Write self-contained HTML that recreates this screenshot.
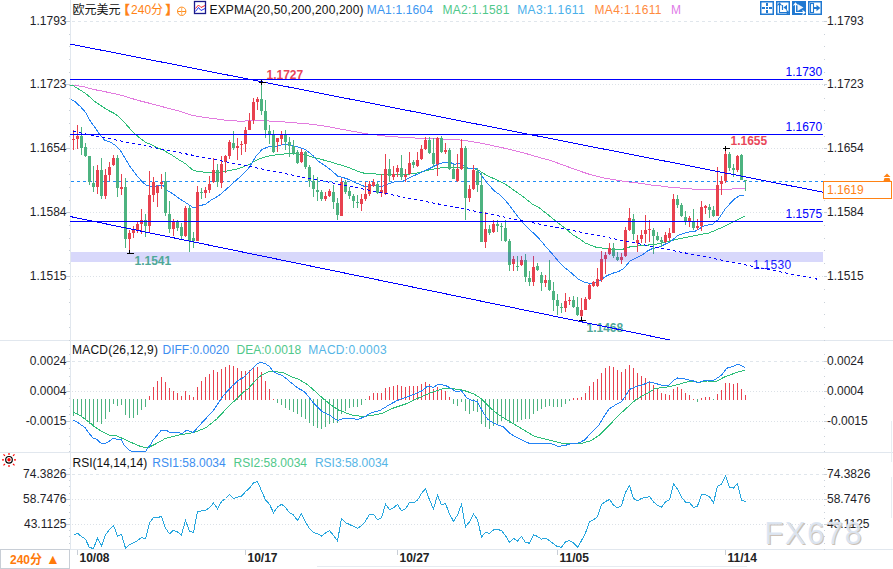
<!DOCTYPE html>
<html><head><meta charset="utf-8"><title>EURUSD 240</title>
<style>
html,body{margin:0;padding:0;background:#fff;}
body{width:893px;height:569px;overflow:hidden;}
svg{display:block;}
</style></head><body>
<svg width="893" height="569" viewBox="0 0 893 569" font-family="'Liberation Sans','Noto Sans CJK SC',sans-serif">
<defs><clipPath id="cm"><rect x="70" y="22" width="753" height="318"/></clipPath><clipPath id="cmacd"><rect x="71" y="341" width="752" height="111"/></clipPath><clipPath id="crsi"><rect x="71" y="453" width="752" height="96"/></clipPath></defs>
<rect x="0" y="0" width="893" height="569" fill="#fff"/>
<rect x="70" y="0" width="1" height="549" fill="#E1E7EE"/>
<rect x="0" y="340" width="893" height="1" fill="#E1E7EE"/>
<rect x="0" y="452" width="893" height="1" fill="#E1E7EE"/>
<rect x="0" y="549" width="893" height="1" fill="#E1E7EE"/>
<rect x="317" y="566" width="430" height="1" fill="#E6EBF1"/>
<rect x="891" y="421" width="1" height="41" fill="#E8EDF2"/>
<rect x="891" y="477" width="1" height="41" fill="#E8EDF2"/>
<path d="M72 21.5h3M78 21.5h3M84 21.5h3M90 21.5h3M96 21.5h3M102 21.5h3M108 21.5h3M114 21.5h3M120 21.5h3M126 21.5h3M132 21.5h3M138 21.5h3M144 21.5h3M150 21.5h3M156 21.5h3M162 21.5h3M168 21.5h3M174 21.5h3M180 21.5h3M186 21.5h3M192 21.5h3M198 21.5h3M204 21.5h3M210 21.5h3M216 21.5h3M222 21.5h3M228 21.5h3M234 21.5h3M240 21.5h3M246 21.5h3M252 21.5h3M258 21.5h3M264 21.5h3M270 21.5h3M276 21.5h3M282 21.5h3M288 21.5h3M294 21.5h3M300 21.5h3M306 21.5h3M312 21.5h3M318 21.5h3M324 21.5h3M330 21.5h3M336 21.5h3M342 21.5h3M348 21.5h3M354 21.5h3M360 21.5h3M366 21.5h3M372 21.5h3M378 21.5h3M384 21.5h3M390 21.5h3M396 21.5h3M402 21.5h3M408 21.5h3M414 21.5h3M420 21.5h3M426 21.5h3M432 21.5h3M438 21.5h3M444 21.5h3M450 21.5h3M456 21.5h3M462 21.5h3M468 21.5h3M474 21.5h3M480 21.5h3M486 21.5h3M492 21.5h3M498 21.5h3M504 21.5h3M510 21.5h3M516 21.5h3M522 21.5h3M528 21.5h3M534 21.5h3M540 21.5h3M546 21.5h3M552 21.5h3M558 21.5h3M564 21.5h3M570 21.5h3M576 21.5h3M582 21.5h3M588 21.5h3M594 21.5h3M600 21.5h3M606 21.5h3M612 21.5h3M618 21.5h3M624 21.5h3M630 21.5h3M636 21.5h3M642 21.5h3M648 21.5h3M654 21.5h3M660 21.5h3M666 21.5h3M672 21.5h3M678 21.5h3M684 21.5h3M690 21.5h3M696 21.5h3M702 21.5h3M708 21.5h3M714 21.5h3M720 21.5h3M726 21.5h3M732 21.5h3M738 21.5h3M744 21.5h3M750 21.5h3M756 21.5h3M762 21.5h3M768 21.5h3M774 21.5h3M780 21.5h3M786 21.5h3M792 21.5h3M798 21.5h3M804 21.5h3M810 21.5h3M816 21.5h3M822 21.5h3" stroke="#E0E6EC" stroke-width="1" fill="none"/>
<path d="M72 84.5h1M75 84.5h1M78 84.5h1M81 84.5h1M84 84.5h1M87 84.5h1M90 84.5h1M93 84.5h1M96 84.5h1M99 84.5h1M102 84.5h1M105 84.5h1M108 84.5h1M111 84.5h1M114 84.5h1M117 84.5h1M120 84.5h1M123 84.5h1M126 84.5h1M129 84.5h1M132 84.5h1M135 84.5h1M138 84.5h1M141 84.5h1M144 84.5h1M147 84.5h1M150 84.5h1M153 84.5h1M156 84.5h1M159 84.5h1M162 84.5h1M165 84.5h1M168 84.5h1M171 84.5h1M174 84.5h1M177 84.5h1M180 84.5h1M183 84.5h1M186 84.5h1M189 84.5h1M192 84.5h1M195 84.5h1M198 84.5h1M201 84.5h1M204 84.5h1M207 84.5h1M210 84.5h1M213 84.5h1M216 84.5h1M219 84.5h1M222 84.5h1M225 84.5h1M228 84.5h1M231 84.5h1M234 84.5h1M237 84.5h1M240 84.5h1M243 84.5h1M246 84.5h1M249 84.5h1M252 84.5h1M255 84.5h1M258 84.5h1M261 84.5h1M264 84.5h1M267 84.5h1M270 84.5h1M273 84.5h1M276 84.5h1M279 84.5h1M282 84.5h1M285 84.5h1M288 84.5h1M291 84.5h1M294 84.5h1M297 84.5h1M300 84.5h1M303 84.5h1M306 84.5h1M309 84.5h1M312 84.5h1M315 84.5h1M318 84.5h1M321 84.5h1M324 84.5h1M327 84.5h1M330 84.5h1M333 84.5h1M336 84.5h1M339 84.5h1M342 84.5h1M345 84.5h1M348 84.5h1M351 84.5h1M354 84.5h1M357 84.5h1M360 84.5h1M363 84.5h1M366 84.5h1M369 84.5h1M372 84.5h1M375 84.5h1M378 84.5h1M381 84.5h1M384 84.5h1M387 84.5h1M390 84.5h1M393 84.5h1M396 84.5h1M399 84.5h1M402 84.5h1M405 84.5h1M408 84.5h1M411 84.5h1M414 84.5h1M417 84.5h1M420 84.5h1M423 84.5h1M426 84.5h1M429 84.5h1M432 84.5h1M435 84.5h1M438 84.5h1M441 84.5h1M444 84.5h1M447 84.5h1M450 84.5h1M453 84.5h1M456 84.5h1M459 84.5h1M462 84.5h1M465 84.5h1M468 84.5h1M471 84.5h1M474 84.5h1M477 84.5h1M480 84.5h1M483 84.5h1M486 84.5h1M489 84.5h1M492 84.5h1M495 84.5h1M498 84.5h1M501 84.5h1M504 84.5h1M507 84.5h1M510 84.5h1M513 84.5h1M516 84.5h1M519 84.5h1M522 84.5h1M525 84.5h1M528 84.5h1M531 84.5h1M534 84.5h1M537 84.5h1M540 84.5h1M543 84.5h1M546 84.5h1M549 84.5h1M552 84.5h1M555 84.5h1M558 84.5h1M561 84.5h1M564 84.5h1M567 84.5h1M570 84.5h1M573 84.5h1M576 84.5h1M579 84.5h1M582 84.5h1M585 84.5h1M588 84.5h1M591 84.5h1M594 84.5h1M597 84.5h1M600 84.5h1M603 84.5h1M606 84.5h1M609 84.5h1M612 84.5h1M615 84.5h1M618 84.5h1M621 84.5h1M624 84.5h1M627 84.5h1M630 84.5h1M633 84.5h1M636 84.5h1M639 84.5h1M642 84.5h1M645 84.5h1M648 84.5h1M651 84.5h1M654 84.5h1M657 84.5h1M660 84.5h1M663 84.5h1M666 84.5h1M669 84.5h1M672 84.5h1M675 84.5h1M678 84.5h1M681 84.5h1M684 84.5h1M687 84.5h1M690 84.5h1M693 84.5h1M696 84.5h1M699 84.5h1M702 84.5h1M705 84.5h1M708 84.5h1M711 84.5h1M714 84.5h1M717 84.5h1M720 84.5h1M723 84.5h1M726 84.5h1M729 84.5h1M732 84.5h1M735 84.5h1M738 84.5h1M741 84.5h1M744 84.5h1M747 84.5h1M750 84.5h1M753 84.5h1M756 84.5h1M759 84.5h1M762 84.5h1M765 84.5h1M768 84.5h1M771 84.5h1M774 84.5h1M777 84.5h1M780 84.5h1M783 84.5h1M786 84.5h1M789 84.5h1M792 84.5h1M795 84.5h1M798 84.5h1M801 84.5h1M804 84.5h1M807 84.5h1M810 84.5h1M813 84.5h1M816 84.5h1M819 84.5h1M822 84.5h1" stroke="#DCE1E7" stroke-width="1" fill="none"/>
<path d="M72 148.5h1M75 148.5h1M78 148.5h1M81 148.5h1M84 148.5h1M87 148.5h1M90 148.5h1M93 148.5h1M96 148.5h1M99 148.5h1M102 148.5h1M105 148.5h1M108 148.5h1M111 148.5h1M114 148.5h1M117 148.5h1M120 148.5h1M123 148.5h1M126 148.5h1M129 148.5h1M132 148.5h1M135 148.5h1M138 148.5h1M141 148.5h1M144 148.5h1M147 148.5h1M150 148.5h1M153 148.5h1M156 148.5h1M159 148.5h1M162 148.5h1M165 148.5h1M168 148.5h1M171 148.5h1M174 148.5h1M177 148.5h1M180 148.5h1M183 148.5h1M186 148.5h1M189 148.5h1M192 148.5h1M195 148.5h1M198 148.5h1M201 148.5h1M204 148.5h1M207 148.5h1M210 148.5h1M213 148.5h1M216 148.5h1M219 148.5h1M222 148.5h1M225 148.5h1M228 148.5h1M231 148.5h1M234 148.5h1M237 148.5h1M240 148.5h1M243 148.5h1M246 148.5h1M249 148.5h1M252 148.5h1M255 148.5h1M258 148.5h1M261 148.5h1M264 148.5h1M267 148.5h1M270 148.5h1M273 148.5h1M276 148.5h1M279 148.5h1M282 148.5h1M285 148.5h1M288 148.5h1M291 148.5h1M294 148.5h1M297 148.5h1M300 148.5h1M303 148.5h1M306 148.5h1M309 148.5h1M312 148.5h1M315 148.5h1M318 148.5h1M321 148.5h1M324 148.5h1M327 148.5h1M330 148.5h1M333 148.5h1M336 148.5h1M339 148.5h1M342 148.5h1M345 148.5h1M348 148.5h1M351 148.5h1M354 148.5h1M357 148.5h1M360 148.5h1M363 148.5h1M366 148.5h1M369 148.5h1M372 148.5h1M375 148.5h1M378 148.5h1M381 148.5h1M384 148.5h1M387 148.5h1M390 148.5h1M393 148.5h1M396 148.5h1M399 148.5h1M402 148.5h1M405 148.5h1M408 148.5h1M411 148.5h1M414 148.5h1M417 148.5h1M420 148.5h1M423 148.5h1M426 148.5h1M429 148.5h1M432 148.5h1M435 148.5h1M438 148.5h1M441 148.5h1M444 148.5h1M447 148.5h1M450 148.5h1M453 148.5h1M456 148.5h1M459 148.5h1M462 148.5h1M465 148.5h1M468 148.5h1M471 148.5h1M474 148.5h1M477 148.5h1M480 148.5h1M483 148.5h1M486 148.5h1M489 148.5h1M492 148.5h1M495 148.5h1M498 148.5h1M501 148.5h1M504 148.5h1M507 148.5h1M510 148.5h1M513 148.5h1M516 148.5h1M519 148.5h1M522 148.5h1M525 148.5h1M528 148.5h1M531 148.5h1M534 148.5h1M537 148.5h1M540 148.5h1M543 148.5h1M546 148.5h1M549 148.5h1M552 148.5h1M555 148.5h1M558 148.5h1M561 148.5h1M564 148.5h1M567 148.5h1M570 148.5h1M573 148.5h1M576 148.5h1M579 148.5h1M582 148.5h1M585 148.5h1M588 148.5h1M591 148.5h1M594 148.5h1M597 148.5h1M600 148.5h1M603 148.5h1M606 148.5h1M609 148.5h1M612 148.5h1M615 148.5h1M618 148.5h1M621 148.5h1M624 148.5h1M627 148.5h1M630 148.5h1M633 148.5h1M636 148.5h1M639 148.5h1M642 148.5h1M645 148.5h1M648 148.5h1M651 148.5h1M654 148.5h1M657 148.5h1M660 148.5h1M663 148.5h1M666 148.5h1M669 148.5h1M672 148.5h1M675 148.5h1M678 148.5h1M681 148.5h1M684 148.5h1M687 148.5h1M690 148.5h1M693 148.5h1M696 148.5h1M699 148.5h1M702 148.5h1M705 148.5h1M708 148.5h1M711 148.5h1M714 148.5h1M717 148.5h1M720 148.5h1M723 148.5h1M726 148.5h1M729 148.5h1M732 148.5h1M735 148.5h1M738 148.5h1M741 148.5h1M744 148.5h1M747 148.5h1M750 148.5h1M753 148.5h1M756 148.5h1M759 148.5h1M762 148.5h1M765 148.5h1M768 148.5h1M771 148.5h1M774 148.5h1M777 148.5h1M780 148.5h1M783 148.5h1M786 148.5h1M789 148.5h1M792 148.5h1M795 148.5h1M798 148.5h1M801 148.5h1M804 148.5h1M807 148.5h1M810 148.5h1M813 148.5h1M816 148.5h1M819 148.5h1M822 148.5h1" stroke="#DCE1E7" stroke-width="1" fill="none"/>
<path d="M72 212.5h1M75 212.5h1M78 212.5h1M81 212.5h1M84 212.5h1M87 212.5h1M90 212.5h1M93 212.5h1M96 212.5h1M99 212.5h1M102 212.5h1M105 212.5h1M108 212.5h1M111 212.5h1M114 212.5h1M117 212.5h1M120 212.5h1M123 212.5h1M126 212.5h1M129 212.5h1M132 212.5h1M135 212.5h1M138 212.5h1M141 212.5h1M144 212.5h1M147 212.5h1M150 212.5h1M153 212.5h1M156 212.5h1M159 212.5h1M162 212.5h1M165 212.5h1M168 212.5h1M171 212.5h1M174 212.5h1M177 212.5h1M180 212.5h1M183 212.5h1M186 212.5h1M189 212.5h1M192 212.5h1M195 212.5h1M198 212.5h1M201 212.5h1M204 212.5h1M207 212.5h1M210 212.5h1M213 212.5h1M216 212.5h1M219 212.5h1M222 212.5h1M225 212.5h1M228 212.5h1M231 212.5h1M234 212.5h1M237 212.5h1M240 212.5h1M243 212.5h1M246 212.5h1M249 212.5h1M252 212.5h1M255 212.5h1M258 212.5h1M261 212.5h1M264 212.5h1M267 212.5h1M270 212.5h1M273 212.5h1M276 212.5h1M279 212.5h1M282 212.5h1M285 212.5h1M288 212.5h1M291 212.5h1M294 212.5h1M297 212.5h1M300 212.5h1M303 212.5h1M306 212.5h1M309 212.5h1M312 212.5h1M315 212.5h1M318 212.5h1M321 212.5h1M324 212.5h1M327 212.5h1M330 212.5h1M333 212.5h1M336 212.5h1M339 212.5h1M342 212.5h1M345 212.5h1M348 212.5h1M351 212.5h1M354 212.5h1M357 212.5h1M360 212.5h1M363 212.5h1M366 212.5h1M369 212.5h1M372 212.5h1M375 212.5h1M378 212.5h1M381 212.5h1M384 212.5h1M387 212.5h1M390 212.5h1M393 212.5h1M396 212.5h1M399 212.5h1M402 212.5h1M405 212.5h1M408 212.5h1M411 212.5h1M414 212.5h1M417 212.5h1M420 212.5h1M423 212.5h1M426 212.5h1M429 212.5h1M432 212.5h1M435 212.5h1M438 212.5h1M441 212.5h1M444 212.5h1M447 212.5h1M450 212.5h1M453 212.5h1M456 212.5h1M459 212.5h1M462 212.5h1M465 212.5h1M468 212.5h1M471 212.5h1M474 212.5h1M477 212.5h1M480 212.5h1M483 212.5h1M486 212.5h1M489 212.5h1M492 212.5h1M495 212.5h1M498 212.5h1M501 212.5h1M504 212.5h1M507 212.5h1M510 212.5h1M513 212.5h1M516 212.5h1M519 212.5h1M522 212.5h1M525 212.5h1M528 212.5h1M531 212.5h1M534 212.5h1M537 212.5h1M540 212.5h1M543 212.5h1M546 212.5h1M549 212.5h1M552 212.5h1M555 212.5h1M558 212.5h1M561 212.5h1M564 212.5h1M567 212.5h1M570 212.5h1M573 212.5h1M576 212.5h1M579 212.5h1M582 212.5h1M585 212.5h1M588 212.5h1M591 212.5h1M594 212.5h1M597 212.5h1M600 212.5h1M603 212.5h1M606 212.5h1M609 212.5h1M612 212.5h1M615 212.5h1M618 212.5h1M621 212.5h1M624 212.5h1M627 212.5h1M630 212.5h1M633 212.5h1M636 212.5h1M639 212.5h1M642 212.5h1M645 212.5h1M648 212.5h1M651 212.5h1M654 212.5h1M657 212.5h1M660 212.5h1M663 212.5h1M666 212.5h1M669 212.5h1M672 212.5h1M675 212.5h1M678 212.5h1M681 212.5h1M684 212.5h1M687 212.5h1M690 212.5h1M693 212.5h1M696 212.5h1M699 212.5h1M702 212.5h1M705 212.5h1M708 212.5h1M711 212.5h1M714 212.5h1M717 212.5h1M720 212.5h1M723 212.5h1M726 212.5h1M729 212.5h1M732 212.5h1M735 212.5h1M738 212.5h1M741 212.5h1M744 212.5h1M747 212.5h1M750 212.5h1M753 212.5h1M756 212.5h1M759 212.5h1M762 212.5h1M765 212.5h1M768 212.5h1M771 212.5h1M774 212.5h1M777 212.5h1M780 212.5h1M783 212.5h1M786 212.5h1M789 212.5h1M792 212.5h1M795 212.5h1M798 212.5h1M801 212.5h1M804 212.5h1M807 212.5h1M810 212.5h1M813 212.5h1M816 212.5h1M819 212.5h1M822 212.5h1" stroke="#DCE1E7" stroke-width="1" fill="none"/>
<path d="M72 276.5h1M75 276.5h1M78 276.5h1M81 276.5h1M84 276.5h1M87 276.5h1M90 276.5h1M93 276.5h1M96 276.5h1M99 276.5h1M102 276.5h1M105 276.5h1M108 276.5h1M111 276.5h1M114 276.5h1M117 276.5h1M120 276.5h1M123 276.5h1M126 276.5h1M129 276.5h1M132 276.5h1M135 276.5h1M138 276.5h1M141 276.5h1M144 276.5h1M147 276.5h1M150 276.5h1M153 276.5h1M156 276.5h1M159 276.5h1M162 276.5h1M165 276.5h1M168 276.5h1M171 276.5h1M174 276.5h1M177 276.5h1M180 276.5h1M183 276.5h1M186 276.5h1M189 276.5h1M192 276.5h1M195 276.5h1M198 276.5h1M201 276.5h1M204 276.5h1M207 276.5h1M210 276.5h1M213 276.5h1M216 276.5h1M219 276.5h1M222 276.5h1M225 276.5h1M228 276.5h1M231 276.5h1M234 276.5h1M237 276.5h1M240 276.5h1M243 276.5h1M246 276.5h1M249 276.5h1M252 276.5h1M255 276.5h1M258 276.5h1M261 276.5h1M264 276.5h1M267 276.5h1M270 276.5h1M273 276.5h1M276 276.5h1M279 276.5h1M282 276.5h1M285 276.5h1M288 276.5h1M291 276.5h1M294 276.5h1M297 276.5h1M300 276.5h1M303 276.5h1M306 276.5h1M309 276.5h1M312 276.5h1M315 276.5h1M318 276.5h1M321 276.5h1M324 276.5h1M327 276.5h1M330 276.5h1M333 276.5h1M336 276.5h1M339 276.5h1M342 276.5h1M345 276.5h1M348 276.5h1M351 276.5h1M354 276.5h1M357 276.5h1M360 276.5h1M363 276.5h1M366 276.5h1M369 276.5h1M372 276.5h1M375 276.5h1M378 276.5h1M381 276.5h1M384 276.5h1M387 276.5h1M390 276.5h1M393 276.5h1M396 276.5h1M399 276.5h1M402 276.5h1M405 276.5h1M408 276.5h1M411 276.5h1M414 276.5h1M417 276.5h1M420 276.5h1M423 276.5h1M426 276.5h1M429 276.5h1M432 276.5h1M435 276.5h1M438 276.5h1M441 276.5h1M444 276.5h1M447 276.5h1M450 276.5h1M453 276.5h1M456 276.5h1M459 276.5h1M462 276.5h1M465 276.5h1M468 276.5h1M471 276.5h1M474 276.5h1M477 276.5h1M480 276.5h1M483 276.5h1M486 276.5h1M489 276.5h1M492 276.5h1M495 276.5h1M498 276.5h1M501 276.5h1M504 276.5h1M507 276.5h1M510 276.5h1M513 276.5h1M516 276.5h1M519 276.5h1M522 276.5h1M525 276.5h1M528 276.5h1M531 276.5h1M534 276.5h1M537 276.5h1M540 276.5h1M543 276.5h1M546 276.5h1M549 276.5h1M552 276.5h1M555 276.5h1M558 276.5h1M561 276.5h1M564 276.5h1M567 276.5h1M570 276.5h1M573 276.5h1M576 276.5h1M579 276.5h1M582 276.5h1M585 276.5h1M588 276.5h1M591 276.5h1M594 276.5h1M597 276.5h1M600 276.5h1M603 276.5h1M606 276.5h1M609 276.5h1M612 276.5h1M615 276.5h1M618 276.5h1M621 276.5h1M624 276.5h1M627 276.5h1M630 276.5h1M633 276.5h1M636 276.5h1M639 276.5h1M642 276.5h1M645 276.5h1M648 276.5h1M651 276.5h1M654 276.5h1M657 276.5h1M660 276.5h1M663 276.5h1M666 276.5h1M669 276.5h1M672 276.5h1M675 276.5h1M678 276.5h1M681 276.5h1M684 276.5h1M687 276.5h1M690 276.5h1M693 276.5h1M696 276.5h1M699 276.5h1M702 276.5h1M705 276.5h1M708 276.5h1M711 276.5h1M714 276.5h1M717 276.5h1M720 276.5h1M723 276.5h1M726 276.5h1M729 276.5h1M732 276.5h1M735 276.5h1M738 276.5h1M741 276.5h1M744 276.5h1M747 276.5h1M750 276.5h1M753 276.5h1M756 276.5h1M759 276.5h1M762 276.5h1M765 276.5h1M768 276.5h1M771 276.5h1M774 276.5h1M777 276.5h1M780 276.5h1M783 276.5h1M786 276.5h1M789 276.5h1M792 276.5h1M795 276.5h1M798 276.5h1M801 276.5h1M804 276.5h1M807 276.5h1M810 276.5h1M813 276.5h1M816 276.5h1M819 276.5h1M822 276.5h1" stroke="#DCE1E7" stroke-width="1" fill="none"/>
<path d="M72 361.5h3M78 361.5h3M84 361.5h3M90 361.5h3M96 361.5h3M102 361.5h3M108 361.5h3M114 361.5h3M120 361.5h3M126 361.5h3M132 361.5h3M138 361.5h3M144 361.5h3M150 361.5h3M156 361.5h3M162 361.5h3M168 361.5h3M174 361.5h3M180 361.5h3M186 361.5h3M192 361.5h3M198 361.5h3M204 361.5h3M210 361.5h3M216 361.5h3M222 361.5h3M228 361.5h3M234 361.5h3M240 361.5h3M246 361.5h3M252 361.5h3M258 361.5h3M264 361.5h3M270 361.5h3M276 361.5h3M282 361.5h3M288 361.5h3M294 361.5h3M300 361.5h3M306 361.5h3M312 361.5h3M318 361.5h3M324 361.5h3M330 361.5h3M336 361.5h3M342 361.5h3M348 361.5h3M354 361.5h3M360 361.5h3M366 361.5h3M372 361.5h3M378 361.5h3M384 361.5h3M390 361.5h3M396 361.5h3M402 361.5h3M408 361.5h3M414 361.5h3M420 361.5h3M426 361.5h3M432 361.5h3M438 361.5h3M444 361.5h3M450 361.5h3M456 361.5h3M462 361.5h3M468 361.5h3M474 361.5h3M480 361.5h3M486 361.5h3M492 361.5h3M498 361.5h3M504 361.5h3M510 361.5h3M516 361.5h3M522 361.5h3M528 361.5h3M534 361.5h3M540 361.5h3M546 361.5h3M552 361.5h3M558 361.5h3M564 361.5h3M570 361.5h3M576 361.5h3M582 361.5h3M588 361.5h3M594 361.5h3M600 361.5h3M606 361.5h3M612 361.5h3M618 361.5h3M624 361.5h3M630 361.5h3M636 361.5h3M642 361.5h3M648 361.5h3M654 361.5h3M660 361.5h3M666 361.5h3M672 361.5h3M678 361.5h3M684 361.5h3M690 361.5h3M696 361.5h3M702 361.5h3M708 361.5h3M714 361.5h3M720 361.5h3M726 361.5h3M732 361.5h3M738 361.5h3M744 361.5h3M750 361.5h3M756 361.5h3M762 361.5h3M768 361.5h3M774 361.5h3M780 361.5h3M786 361.5h3M792 361.5h3M798 361.5h3M804 361.5h3M810 361.5h3M816 361.5h3M822 361.5h3" stroke="#E0E6EC" stroke-width="1" fill="none"/>
<path d="M72 391.5h1M75 391.5h1M78 391.5h1M81 391.5h1M84 391.5h1M87 391.5h1M90 391.5h1M93 391.5h1M96 391.5h1M99 391.5h1M102 391.5h1M105 391.5h1M108 391.5h1M111 391.5h1M114 391.5h1M117 391.5h1M120 391.5h1M123 391.5h1M126 391.5h1M129 391.5h1M132 391.5h1M135 391.5h1M138 391.5h1M141 391.5h1M144 391.5h1M147 391.5h1M150 391.5h1M153 391.5h1M156 391.5h1M159 391.5h1M162 391.5h1M165 391.5h1M168 391.5h1M171 391.5h1M174 391.5h1M177 391.5h1M180 391.5h1M183 391.5h1M186 391.5h1M189 391.5h1M192 391.5h1M195 391.5h1M198 391.5h1M201 391.5h1M204 391.5h1M207 391.5h1M210 391.5h1M213 391.5h1M216 391.5h1M219 391.5h1M222 391.5h1M225 391.5h1M228 391.5h1M231 391.5h1M234 391.5h1M237 391.5h1M240 391.5h1M243 391.5h1M246 391.5h1M249 391.5h1M252 391.5h1M255 391.5h1M258 391.5h1M261 391.5h1M264 391.5h1M267 391.5h1M270 391.5h1M273 391.5h1M276 391.5h1M279 391.5h1M282 391.5h1M285 391.5h1M288 391.5h1M291 391.5h1M294 391.5h1M297 391.5h1M300 391.5h1M303 391.5h1M306 391.5h1M309 391.5h1M312 391.5h1M315 391.5h1M318 391.5h1M321 391.5h1M324 391.5h1M327 391.5h1M330 391.5h1M333 391.5h1M336 391.5h1M339 391.5h1M342 391.5h1M345 391.5h1M348 391.5h1M351 391.5h1M354 391.5h1M357 391.5h1M360 391.5h1M363 391.5h1M366 391.5h1M369 391.5h1M372 391.5h1M375 391.5h1M378 391.5h1M381 391.5h1M384 391.5h1M387 391.5h1M390 391.5h1M393 391.5h1M396 391.5h1M399 391.5h1M402 391.5h1M405 391.5h1M408 391.5h1M411 391.5h1M414 391.5h1M417 391.5h1M420 391.5h1M423 391.5h1M426 391.5h1M429 391.5h1M432 391.5h1M435 391.5h1M438 391.5h1M441 391.5h1M444 391.5h1M447 391.5h1M450 391.5h1M453 391.5h1M456 391.5h1M459 391.5h1M462 391.5h1M465 391.5h1M468 391.5h1M471 391.5h1M474 391.5h1M477 391.5h1M480 391.5h1M483 391.5h1M486 391.5h1M489 391.5h1M492 391.5h1M495 391.5h1M498 391.5h1M501 391.5h1M504 391.5h1M507 391.5h1M510 391.5h1M513 391.5h1M516 391.5h1M519 391.5h1M522 391.5h1M525 391.5h1M528 391.5h1M531 391.5h1M534 391.5h1M537 391.5h1M540 391.5h1M543 391.5h1M546 391.5h1M549 391.5h1M552 391.5h1M555 391.5h1M558 391.5h1M561 391.5h1M564 391.5h1M567 391.5h1M570 391.5h1M573 391.5h1M576 391.5h1M579 391.5h1M582 391.5h1M585 391.5h1M588 391.5h1M591 391.5h1M594 391.5h1M597 391.5h1M600 391.5h1M603 391.5h1M606 391.5h1M609 391.5h1M612 391.5h1M615 391.5h1M618 391.5h1M621 391.5h1M624 391.5h1M627 391.5h1M630 391.5h1M633 391.5h1M636 391.5h1M639 391.5h1M642 391.5h1M645 391.5h1M648 391.5h1M651 391.5h1M654 391.5h1M657 391.5h1M660 391.5h1M663 391.5h1M666 391.5h1M669 391.5h1M672 391.5h1M675 391.5h1M678 391.5h1M681 391.5h1M684 391.5h1M687 391.5h1M690 391.5h1M693 391.5h1M696 391.5h1M699 391.5h1M702 391.5h1M705 391.5h1M708 391.5h1M711 391.5h1M714 391.5h1M717 391.5h1M720 391.5h1M723 391.5h1M726 391.5h1M729 391.5h1M732 391.5h1M735 391.5h1M738 391.5h1M741 391.5h1M744 391.5h1M747 391.5h1M750 391.5h1M753 391.5h1M756 391.5h1M759 391.5h1M762 391.5h1M765 391.5h1M768 391.5h1M771 391.5h1M774 391.5h1M777 391.5h1M780 391.5h1M783 391.5h1M786 391.5h1M789 391.5h1M792 391.5h1M795 391.5h1M798 391.5h1M801 391.5h1M804 391.5h1M807 391.5h1M810 391.5h1M813 391.5h1M816 391.5h1M819 391.5h1M822 391.5h1" stroke="#DCE1E7" stroke-width="1" fill="none"/>
<path d="M72 421.5h1M75 421.5h1M78 421.5h1M81 421.5h1M84 421.5h1M87 421.5h1M90 421.5h1M93 421.5h1M96 421.5h1M99 421.5h1M102 421.5h1M105 421.5h1M108 421.5h1M111 421.5h1M114 421.5h1M117 421.5h1M120 421.5h1M123 421.5h1M126 421.5h1M129 421.5h1M132 421.5h1M135 421.5h1M138 421.5h1M141 421.5h1M144 421.5h1M147 421.5h1M150 421.5h1M153 421.5h1M156 421.5h1M159 421.5h1M162 421.5h1M165 421.5h1M168 421.5h1M171 421.5h1M174 421.5h1M177 421.5h1M180 421.5h1M183 421.5h1M186 421.5h1M189 421.5h1M192 421.5h1M195 421.5h1M198 421.5h1M201 421.5h1M204 421.5h1M207 421.5h1M210 421.5h1M213 421.5h1M216 421.5h1M219 421.5h1M222 421.5h1M225 421.5h1M228 421.5h1M231 421.5h1M234 421.5h1M237 421.5h1M240 421.5h1M243 421.5h1M246 421.5h1M249 421.5h1M252 421.5h1M255 421.5h1M258 421.5h1M261 421.5h1M264 421.5h1M267 421.5h1M270 421.5h1M273 421.5h1M276 421.5h1M279 421.5h1M282 421.5h1M285 421.5h1M288 421.5h1M291 421.5h1M294 421.5h1M297 421.5h1M300 421.5h1M303 421.5h1M306 421.5h1M309 421.5h1M312 421.5h1M315 421.5h1M318 421.5h1M321 421.5h1M324 421.5h1M327 421.5h1M330 421.5h1M333 421.5h1M336 421.5h1M339 421.5h1M342 421.5h1M345 421.5h1M348 421.5h1M351 421.5h1M354 421.5h1M357 421.5h1M360 421.5h1M363 421.5h1M366 421.5h1M369 421.5h1M372 421.5h1M375 421.5h1M378 421.5h1M381 421.5h1M384 421.5h1M387 421.5h1M390 421.5h1M393 421.5h1M396 421.5h1M399 421.5h1M402 421.5h1M405 421.5h1M408 421.5h1M411 421.5h1M414 421.5h1M417 421.5h1M420 421.5h1M423 421.5h1M426 421.5h1M429 421.5h1M432 421.5h1M435 421.5h1M438 421.5h1M441 421.5h1M444 421.5h1M447 421.5h1M450 421.5h1M453 421.5h1M456 421.5h1M459 421.5h1M462 421.5h1M465 421.5h1M468 421.5h1M471 421.5h1M474 421.5h1M477 421.5h1M480 421.5h1M483 421.5h1M486 421.5h1M489 421.5h1M492 421.5h1M495 421.5h1M498 421.5h1M501 421.5h1M504 421.5h1M507 421.5h1M510 421.5h1M513 421.5h1M516 421.5h1M519 421.5h1M522 421.5h1M525 421.5h1M528 421.5h1M531 421.5h1M534 421.5h1M537 421.5h1M540 421.5h1M543 421.5h1M546 421.5h1M549 421.5h1M552 421.5h1M555 421.5h1M558 421.5h1M561 421.5h1M564 421.5h1M567 421.5h1M570 421.5h1M573 421.5h1M576 421.5h1M579 421.5h1M582 421.5h1M585 421.5h1M588 421.5h1M591 421.5h1M594 421.5h1M597 421.5h1M600 421.5h1M603 421.5h1M606 421.5h1M609 421.5h1M612 421.5h1M615 421.5h1M618 421.5h1M621 421.5h1M624 421.5h1M627 421.5h1M630 421.5h1M633 421.5h1M636 421.5h1M639 421.5h1M642 421.5h1M645 421.5h1M648 421.5h1M651 421.5h1M654 421.5h1M657 421.5h1M660 421.5h1M663 421.5h1M666 421.5h1M669 421.5h1M672 421.5h1M675 421.5h1M678 421.5h1M681 421.5h1M684 421.5h1M687 421.5h1M690 421.5h1M693 421.5h1M696 421.5h1M699 421.5h1M702 421.5h1M705 421.5h1M708 421.5h1M711 421.5h1M714 421.5h1M717 421.5h1M720 421.5h1M723 421.5h1M726 421.5h1M729 421.5h1M732 421.5h1M735 421.5h1M738 421.5h1M741 421.5h1M744 421.5h1M747 421.5h1M750 421.5h1M753 421.5h1M756 421.5h1M759 421.5h1M762 421.5h1M765 421.5h1M768 421.5h1M771 421.5h1M774 421.5h1M777 421.5h1M780 421.5h1M783 421.5h1M786 421.5h1M789 421.5h1M792 421.5h1M795 421.5h1M798 421.5h1M801 421.5h1M804 421.5h1M807 421.5h1M810 421.5h1M813 421.5h1M816 421.5h1M819 421.5h1M822 421.5h1" stroke="#DCE1E7" stroke-width="1" fill="none"/>
<path d="M72 474.5h3M78 474.5h3M84 474.5h3M90 474.5h3M96 474.5h3M102 474.5h3M108 474.5h3M114 474.5h3M120 474.5h3M126 474.5h3M132 474.5h3M138 474.5h3M144 474.5h3M150 474.5h3M156 474.5h3M162 474.5h3M168 474.5h3M174 474.5h3M180 474.5h3M186 474.5h3M192 474.5h3M198 474.5h3M204 474.5h3M210 474.5h3M216 474.5h3M222 474.5h3M228 474.5h3M234 474.5h3M240 474.5h3M246 474.5h3M252 474.5h3M258 474.5h3M264 474.5h3M270 474.5h3M276 474.5h3M282 474.5h3M288 474.5h3M294 474.5h3M300 474.5h3M306 474.5h3M312 474.5h3M318 474.5h3M324 474.5h3M330 474.5h3M336 474.5h3M342 474.5h3M348 474.5h3M354 474.5h3M360 474.5h3M366 474.5h3M372 474.5h3M378 474.5h3M384 474.5h3M390 474.5h3M396 474.5h3M402 474.5h3M408 474.5h3M414 474.5h3M420 474.5h3M426 474.5h3M432 474.5h3M438 474.5h3M444 474.5h3M450 474.5h3M456 474.5h3M462 474.5h3M468 474.5h3M474 474.5h3M480 474.5h3M486 474.5h3M492 474.5h3M498 474.5h3M504 474.5h3M510 474.5h3M516 474.5h3M522 474.5h3M528 474.5h3M534 474.5h3M540 474.5h3M546 474.5h3M552 474.5h3M558 474.5h3M564 474.5h3M570 474.5h3M576 474.5h3M582 474.5h3M588 474.5h3M594 474.5h3M600 474.5h3M606 474.5h3M612 474.5h3M618 474.5h3M624 474.5h3M630 474.5h3M636 474.5h3M642 474.5h3M648 474.5h3M654 474.5h3M660 474.5h3M666 474.5h3M672 474.5h3M678 474.5h3M684 474.5h3M690 474.5h3M696 474.5h3M702 474.5h3M708 474.5h3M714 474.5h3M720 474.5h3M726 474.5h3M732 474.5h3M738 474.5h3M744 474.5h3M750 474.5h3M756 474.5h3M762 474.5h3M768 474.5h3M774 474.5h3M780 474.5h3M786 474.5h3M792 474.5h3M798 474.5h3M804 474.5h3M810 474.5h3M816 474.5h3M822 474.5h3" stroke="#E0E6EC" stroke-width="1" fill="none"/>
<path d="M72 499.5h1M75 499.5h1M78 499.5h1M81 499.5h1M84 499.5h1M87 499.5h1M90 499.5h1M93 499.5h1M96 499.5h1M99 499.5h1M102 499.5h1M105 499.5h1M108 499.5h1M111 499.5h1M114 499.5h1M117 499.5h1M120 499.5h1M123 499.5h1M126 499.5h1M129 499.5h1M132 499.5h1M135 499.5h1M138 499.5h1M141 499.5h1M144 499.5h1M147 499.5h1M150 499.5h1M153 499.5h1M156 499.5h1M159 499.5h1M162 499.5h1M165 499.5h1M168 499.5h1M171 499.5h1M174 499.5h1M177 499.5h1M180 499.5h1M183 499.5h1M186 499.5h1M189 499.5h1M192 499.5h1M195 499.5h1M198 499.5h1M201 499.5h1M204 499.5h1M207 499.5h1M210 499.5h1M213 499.5h1M216 499.5h1M219 499.5h1M222 499.5h1M225 499.5h1M228 499.5h1M231 499.5h1M234 499.5h1M237 499.5h1M240 499.5h1M243 499.5h1M246 499.5h1M249 499.5h1M252 499.5h1M255 499.5h1M258 499.5h1M261 499.5h1M264 499.5h1M267 499.5h1M270 499.5h1M273 499.5h1M276 499.5h1M279 499.5h1M282 499.5h1M285 499.5h1M288 499.5h1M291 499.5h1M294 499.5h1M297 499.5h1M300 499.5h1M303 499.5h1M306 499.5h1M309 499.5h1M312 499.5h1M315 499.5h1M318 499.5h1M321 499.5h1M324 499.5h1M327 499.5h1M330 499.5h1M333 499.5h1M336 499.5h1M339 499.5h1M342 499.5h1M345 499.5h1M348 499.5h1M351 499.5h1M354 499.5h1M357 499.5h1M360 499.5h1M363 499.5h1M366 499.5h1M369 499.5h1M372 499.5h1M375 499.5h1M378 499.5h1M381 499.5h1M384 499.5h1M387 499.5h1M390 499.5h1M393 499.5h1M396 499.5h1M399 499.5h1M402 499.5h1M405 499.5h1M408 499.5h1M411 499.5h1M414 499.5h1M417 499.5h1M420 499.5h1M423 499.5h1M426 499.5h1M429 499.5h1M432 499.5h1M435 499.5h1M438 499.5h1M441 499.5h1M444 499.5h1M447 499.5h1M450 499.5h1M453 499.5h1M456 499.5h1M459 499.5h1M462 499.5h1M465 499.5h1M468 499.5h1M471 499.5h1M474 499.5h1M477 499.5h1M480 499.5h1M483 499.5h1M486 499.5h1M489 499.5h1M492 499.5h1M495 499.5h1M498 499.5h1M501 499.5h1M504 499.5h1M507 499.5h1M510 499.5h1M513 499.5h1M516 499.5h1M519 499.5h1M522 499.5h1M525 499.5h1M528 499.5h1M531 499.5h1M534 499.5h1M537 499.5h1M540 499.5h1M543 499.5h1M546 499.5h1M549 499.5h1M552 499.5h1M555 499.5h1M558 499.5h1M561 499.5h1M564 499.5h1M567 499.5h1M570 499.5h1M573 499.5h1M576 499.5h1M579 499.5h1M582 499.5h1M585 499.5h1M588 499.5h1M591 499.5h1M594 499.5h1M597 499.5h1M600 499.5h1M603 499.5h1M606 499.5h1M609 499.5h1M612 499.5h1M615 499.5h1M618 499.5h1M621 499.5h1M624 499.5h1M627 499.5h1M630 499.5h1M633 499.5h1M636 499.5h1M639 499.5h1M642 499.5h1M645 499.5h1M648 499.5h1M651 499.5h1M654 499.5h1M657 499.5h1M660 499.5h1M663 499.5h1M666 499.5h1M669 499.5h1M672 499.5h1M675 499.5h1M678 499.5h1M681 499.5h1M684 499.5h1M687 499.5h1M690 499.5h1M693 499.5h1M696 499.5h1M699 499.5h1M702 499.5h1M705 499.5h1M708 499.5h1M711 499.5h1M714 499.5h1M717 499.5h1M720 499.5h1M723 499.5h1M726 499.5h1M729 499.5h1M732 499.5h1M735 499.5h1M738 499.5h1M741 499.5h1M744 499.5h1M747 499.5h1M750 499.5h1M753 499.5h1M756 499.5h1M759 499.5h1M762 499.5h1M765 499.5h1M768 499.5h1M771 499.5h1M774 499.5h1M777 499.5h1M780 499.5h1M783 499.5h1M786 499.5h1M789 499.5h1M792 499.5h1M795 499.5h1M798 499.5h1M801 499.5h1M804 499.5h1M807 499.5h1M810 499.5h1M813 499.5h1M816 499.5h1M819 499.5h1M822 499.5h1" stroke="#DCE1E7" stroke-width="1" fill="none"/>
<path d="M72 524.5h1M75 524.5h1M78 524.5h1M81 524.5h1M84 524.5h1M87 524.5h1M90 524.5h1M93 524.5h1M96 524.5h1M99 524.5h1M102 524.5h1M105 524.5h1M108 524.5h1M111 524.5h1M114 524.5h1M117 524.5h1M120 524.5h1M123 524.5h1M126 524.5h1M129 524.5h1M132 524.5h1M135 524.5h1M138 524.5h1M141 524.5h1M144 524.5h1M147 524.5h1M150 524.5h1M153 524.5h1M156 524.5h1M159 524.5h1M162 524.5h1M165 524.5h1M168 524.5h1M171 524.5h1M174 524.5h1M177 524.5h1M180 524.5h1M183 524.5h1M186 524.5h1M189 524.5h1M192 524.5h1M195 524.5h1M198 524.5h1M201 524.5h1M204 524.5h1M207 524.5h1M210 524.5h1M213 524.5h1M216 524.5h1M219 524.5h1M222 524.5h1M225 524.5h1M228 524.5h1M231 524.5h1M234 524.5h1M237 524.5h1M240 524.5h1M243 524.5h1M246 524.5h1M249 524.5h1M252 524.5h1M255 524.5h1M258 524.5h1M261 524.5h1M264 524.5h1M267 524.5h1M270 524.5h1M273 524.5h1M276 524.5h1M279 524.5h1M282 524.5h1M285 524.5h1M288 524.5h1M291 524.5h1M294 524.5h1M297 524.5h1M300 524.5h1M303 524.5h1M306 524.5h1M309 524.5h1M312 524.5h1M315 524.5h1M318 524.5h1M321 524.5h1M324 524.5h1M327 524.5h1M330 524.5h1M333 524.5h1M336 524.5h1M339 524.5h1M342 524.5h1M345 524.5h1M348 524.5h1M351 524.5h1M354 524.5h1M357 524.5h1M360 524.5h1M363 524.5h1M366 524.5h1M369 524.5h1M372 524.5h1M375 524.5h1M378 524.5h1M381 524.5h1M384 524.5h1M387 524.5h1M390 524.5h1M393 524.5h1M396 524.5h1M399 524.5h1M402 524.5h1M405 524.5h1M408 524.5h1M411 524.5h1M414 524.5h1M417 524.5h1M420 524.5h1M423 524.5h1M426 524.5h1M429 524.5h1M432 524.5h1M435 524.5h1M438 524.5h1M441 524.5h1M444 524.5h1M447 524.5h1M450 524.5h1M453 524.5h1M456 524.5h1M459 524.5h1M462 524.5h1M465 524.5h1M468 524.5h1M471 524.5h1M474 524.5h1M477 524.5h1M480 524.5h1M483 524.5h1M486 524.5h1M489 524.5h1M492 524.5h1M495 524.5h1M498 524.5h1M501 524.5h1M504 524.5h1M507 524.5h1M510 524.5h1M513 524.5h1M516 524.5h1M519 524.5h1M522 524.5h1M525 524.5h1M528 524.5h1M531 524.5h1M534 524.5h1M537 524.5h1M540 524.5h1M543 524.5h1M546 524.5h1M549 524.5h1M552 524.5h1M555 524.5h1M558 524.5h1M561 524.5h1M564 524.5h1M567 524.5h1M570 524.5h1M573 524.5h1M576 524.5h1M579 524.5h1M582 524.5h1M585 524.5h1M588 524.5h1M591 524.5h1M594 524.5h1M597 524.5h1M600 524.5h1M603 524.5h1M606 524.5h1M609 524.5h1M612 524.5h1M615 524.5h1M618 524.5h1M621 524.5h1M624 524.5h1M627 524.5h1M630 524.5h1M633 524.5h1M636 524.5h1M639 524.5h1M642 524.5h1M645 524.5h1M648 524.5h1M651 524.5h1M654 524.5h1M657 524.5h1M660 524.5h1M663 524.5h1M666 524.5h1M669 524.5h1M672 524.5h1M675 524.5h1M678 524.5h1M681 524.5h1M684 524.5h1M687 524.5h1M690 524.5h1M693 524.5h1M696 524.5h1M699 524.5h1M702 524.5h1M705 524.5h1M708 524.5h1M711 524.5h1M714 524.5h1M717 524.5h1M720 524.5h1M723 524.5h1M726 524.5h1M729 524.5h1M732 524.5h1M735 524.5h1M738 524.5h1M741 524.5h1M744 524.5h1M747 524.5h1M750 524.5h1M753 524.5h1M756 524.5h1M759 524.5h1M762 524.5h1M765 524.5h1M768 524.5h1M771 524.5h1M774 524.5h1M777 524.5h1M780 524.5h1M783 524.5h1M786 524.5h1M789 524.5h1M792 524.5h1M795 524.5h1M798 524.5h1M801 524.5h1M804 524.5h1M807 524.5h1M810 524.5h1M813 524.5h1M816 524.5h1M819 524.5h1M822 524.5h1" stroke="#DCE1E7" stroke-width="1" fill="none"/>
<rect x="69" y="21" width="1" height="1" fill="#C9D0D8"/>
<rect x="824" y="21" width="1" height="1" fill="#C9D0D8"/>
<rect x="69" y="34" width="1" height="1" fill="#C9D0D8"/>
<rect x="824" y="34" width="1" height="1" fill="#C9D0D8"/>
<rect x="69" y="46" width="1" height="1" fill="#C9D0D8"/>
<rect x="824" y="46" width="1" height="1" fill="#C9D0D8"/>
<rect x="69" y="59" width="1" height="1" fill="#C9D0D8"/>
<rect x="824" y="59" width="1" height="1" fill="#C9D0D8"/>
<rect x="69" y="72" width="1" height="1" fill="#C9D0D8"/>
<rect x="824" y="72" width="1" height="1" fill="#C9D0D8"/>
<rect x="69" y="85" width="1" height="1" fill="#C9D0D8"/>
<rect x="824" y="85" width="1" height="1" fill="#C9D0D8"/>
<rect x="69" y="98" width="1" height="1" fill="#C9D0D8"/>
<rect x="824" y="98" width="1" height="1" fill="#C9D0D8"/>
<rect x="69" y="110" width="1" height="1" fill="#C9D0D8"/>
<rect x="824" y="110" width="1" height="1" fill="#C9D0D8"/>
<rect x="69" y="123" width="1" height="1" fill="#C9D0D8"/>
<rect x="824" y="123" width="1" height="1" fill="#C9D0D8"/>
<rect x="69" y="136" width="1" height="1" fill="#C9D0D8"/>
<rect x="824" y="136" width="1" height="1" fill="#C9D0D8"/>
<rect x="69" y="148" width="1" height="1" fill="#C9D0D8"/>
<rect x="824" y="148" width="1" height="1" fill="#C9D0D8"/>
<rect x="69" y="161" width="1" height="1" fill="#C9D0D8"/>
<rect x="824" y="161" width="1" height="1" fill="#C9D0D8"/>
<rect x="69" y="174" width="1" height="1" fill="#C9D0D8"/>
<rect x="824" y="174" width="1" height="1" fill="#C9D0D8"/>
<rect x="69" y="187" width="1" height="1" fill="#C9D0D8"/>
<rect x="824" y="187" width="1" height="1" fill="#C9D0D8"/>
<rect x="69" y="200" width="1" height="1" fill="#C9D0D8"/>
<rect x="824" y="200" width="1" height="1" fill="#C9D0D8"/>
<rect x="69" y="212" width="1" height="1" fill="#C9D0D8"/>
<rect x="824" y="212" width="1" height="1" fill="#C9D0D8"/>
<rect x="69" y="225" width="1" height="1" fill="#C9D0D8"/>
<rect x="824" y="225" width="1" height="1" fill="#C9D0D8"/>
<rect x="69" y="238" width="1" height="1" fill="#C9D0D8"/>
<rect x="824" y="238" width="1" height="1" fill="#C9D0D8"/>
<rect x="69" y="250" width="1" height="1" fill="#C9D0D8"/>
<rect x="824" y="250" width="1" height="1" fill="#C9D0D8"/>
<rect x="69" y="263" width="1" height="1" fill="#C9D0D8"/>
<rect x="824" y="263" width="1" height="1" fill="#C9D0D8"/>
<rect x="69" y="276" width="1" height="1" fill="#C9D0D8"/>
<rect x="824" y="276" width="1" height="1" fill="#C9D0D8"/>
<rect x="69" y="289" width="1" height="1" fill="#C9D0D8"/>
<rect x="824" y="289" width="1" height="1" fill="#C9D0D8"/>
<rect x="69" y="302" width="1" height="1" fill="#C9D0D8"/>
<rect x="824" y="302" width="1" height="1" fill="#C9D0D8"/>
<rect x="69" y="314" width="1" height="1" fill="#C9D0D8"/>
<rect x="824" y="314" width="1" height="1" fill="#C9D0D8"/>
<rect x="69" y="327" width="1" height="1" fill="#C9D0D8"/>
<rect x="824" y="327" width="1" height="1" fill="#C9D0D8"/>
<rect x="69" y="340" width="1" height="1" fill="#C9D0D8"/>
<rect x="824" y="340" width="1" height="1" fill="#C9D0D8"/>
<rect x="66" y="21" width="4" height="1" fill="#C9D0D8"/>
<rect x="824" y="21" width="3" height="1" fill="#C9D0D8"/>
<rect x="66" y="84" width="4" height="1" fill="#C9D0D8"/>
<rect x="824" y="84" width="3" height="1" fill="#C9D0D8"/>
<rect x="66" y="148" width="4" height="1" fill="#C9D0D8"/>
<rect x="824" y="148" width="3" height="1" fill="#C9D0D8"/>
<rect x="66" y="212" width="4" height="1" fill="#C9D0D8"/>
<rect x="824" y="212" width="3" height="1" fill="#C9D0D8"/>
<rect x="66" y="276" width="4" height="1" fill="#C9D0D8"/>
<rect x="824" y="276" width="3" height="1" fill="#C9D0D8"/>
<rect x="69" y="354" width="1" height="1" fill="#C9D0D8"/>
<rect x="824" y="354" width="1" height="1" fill="#C9D0D8"/>
<rect x="69" y="361" width="1" height="1" fill="#C9D0D8"/>
<rect x="824" y="361" width="1" height="1" fill="#C9D0D8"/>
<rect x="69" y="368" width="1" height="1" fill="#C9D0D8"/>
<rect x="824" y="368" width="1" height="1" fill="#C9D0D8"/>
<rect x="69" y="376" width="1" height="1" fill="#C9D0D8"/>
<rect x="824" y="376" width="1" height="1" fill="#C9D0D8"/>
<rect x="69" y="384" width="1" height="1" fill="#C9D0D8"/>
<rect x="824" y="384" width="1" height="1" fill="#C9D0D8"/>
<rect x="69" y="391" width="1" height="1" fill="#C9D0D8"/>
<rect x="824" y="391" width="1" height="1" fill="#C9D0D8"/>
<rect x="69" y="398" width="1" height="1" fill="#C9D0D8"/>
<rect x="824" y="398" width="1" height="1" fill="#C9D0D8"/>
<rect x="69" y="406" width="1" height="1" fill="#C9D0D8"/>
<rect x="824" y="406" width="1" height="1" fill="#C9D0D8"/>
<rect x="69" y="414" width="1" height="1" fill="#C9D0D8"/>
<rect x="824" y="414" width="1" height="1" fill="#C9D0D8"/>
<rect x="69" y="421" width="1" height="1" fill="#C9D0D8"/>
<rect x="824" y="421" width="1" height="1" fill="#C9D0D8"/>
<rect x="69" y="428" width="1" height="1" fill="#C9D0D8"/>
<rect x="824" y="428" width="1" height="1" fill="#C9D0D8"/>
<rect x="69" y="436" width="1" height="1" fill="#C9D0D8"/>
<rect x="824" y="436" width="1" height="1" fill="#C9D0D8"/>
<rect x="69" y="444" width="1" height="1" fill="#C9D0D8"/>
<rect x="824" y="444" width="1" height="1" fill="#C9D0D8"/>
<rect x="69" y="451" width="1" height="1" fill="#C9D0D8"/>
<rect x="824" y="451" width="1" height="1" fill="#C9D0D8"/>
<rect x="66" y="361" width="4" height="1" fill="#C9D0D8"/>
<rect x="824" y="361" width="3" height="1" fill="#C9D0D8"/>
<rect x="66" y="391" width="4" height="1" fill="#C9D0D8"/>
<rect x="824" y="391" width="3" height="1" fill="#C9D0D8"/>
<rect x="66" y="421" width="4" height="1" fill="#C9D0D8"/>
<rect x="824" y="421" width="3" height="1" fill="#C9D0D8"/>
<rect x="69" y="468" width="1" height="1" fill="#C9D0D8"/>
<rect x="824" y="468" width="1" height="1" fill="#C9D0D8"/>
<rect x="69" y="474" width="1" height="1" fill="#C9D0D8"/>
<rect x="824" y="474" width="1" height="1" fill="#C9D0D8"/>
<rect x="69" y="480" width="1" height="1" fill="#C9D0D8"/>
<rect x="824" y="480" width="1" height="1" fill="#C9D0D8"/>
<rect x="69" y="486" width="1" height="1" fill="#C9D0D8"/>
<rect x="824" y="486" width="1" height="1" fill="#C9D0D8"/>
<rect x="69" y="493" width="1" height="1" fill="#C9D0D8"/>
<rect x="824" y="493" width="1" height="1" fill="#C9D0D8"/>
<rect x="69" y="499" width="1" height="1" fill="#C9D0D8"/>
<rect x="824" y="499" width="1" height="1" fill="#C9D0D8"/>
<rect x="69" y="505" width="1" height="1" fill="#C9D0D8"/>
<rect x="824" y="505" width="1" height="1" fill="#C9D0D8"/>
<rect x="69" y="512" width="1" height="1" fill="#C9D0D8"/>
<rect x="824" y="512" width="1" height="1" fill="#C9D0D8"/>
<rect x="69" y="518" width="1" height="1" fill="#C9D0D8"/>
<rect x="824" y="518" width="1" height="1" fill="#C9D0D8"/>
<rect x="69" y="524" width="1" height="1" fill="#C9D0D8"/>
<rect x="824" y="524" width="1" height="1" fill="#C9D0D8"/>
<rect x="69" y="530" width="1" height="1" fill="#C9D0D8"/>
<rect x="824" y="530" width="1" height="1" fill="#C9D0D8"/>
<rect x="69" y="536" width="1" height="1" fill="#C9D0D8"/>
<rect x="824" y="536" width="1" height="1" fill="#C9D0D8"/>
<rect x="69" y="543" width="1" height="1" fill="#C9D0D8"/>
<rect x="824" y="543" width="1" height="1" fill="#C9D0D8"/>
<rect x="69" y="549" width="1" height="1" fill="#C9D0D8"/>
<rect x="824" y="549" width="1" height="1" fill="#C9D0D8"/>
<rect x="66" y="474" width="4" height="1" fill="#C9D0D8"/>
<rect x="824" y="474" width="3" height="1" fill="#C9D0D8"/>
<rect x="66" y="499" width="4" height="1" fill="#C9D0D8"/>
<rect x="824" y="499" width="3" height="1" fill="#C9D0D8"/>
<rect x="66" y="524" width="4" height="1" fill="#C9D0D8"/>
<rect x="824" y="524" width="3" height="1" fill="#C9D0D8"/>
<text x="66.5" y="25.3" fill="#1E1E28" font-size="12" text-anchor="end">1.1793</text>
<text x="827" y="25.3" fill="#1E1E28" font-size="12">1.1793</text>
<text x="66.5" y="88.3" fill="#1E1E28" font-size="12" text-anchor="end">1.1723</text>
<text x="827" y="88.3" fill="#1E1E28" font-size="12">1.1723</text>
<text x="66.5" y="152.3" fill="#1E1E28" font-size="12" text-anchor="end">1.1654</text>
<text x="827" y="152.3" fill="#1E1E28" font-size="12">1.1654</text>
<text x="66.5" y="216.3" fill="#1E1E28" font-size="12" text-anchor="end">1.1584</text>
<text x="827" y="216.3" fill="#1E1E28" font-size="12">1.1584</text>
<text x="66.5" y="280.3" fill="#1E1E28" font-size="12" text-anchor="end">1.1515</text>
<text x="827" y="280.3" fill="#1E1E28" font-size="12">1.1515</text>
<text x="66.5" y="365.3" fill="#1E1E28" font-size="12" text-anchor="end">0.0024</text>
<text x="827" y="365.3" fill="#1E1E28" font-size="12">0.0024</text>
<text x="66.5" y="395.3" fill="#1E1E28" font-size="12" text-anchor="end">0.0004</text>
<text x="827" y="395.3" fill="#1E1E28" font-size="12">0.0004</text>
<text x="66.5" y="425.3" fill="#1E1E28" font-size="12" text-anchor="end">-0.0015</text>
<text x="827" y="425.3" fill="#1E1E28" font-size="12">-0.0015</text>
<text x="66.5" y="478.3" fill="#1E1E28" font-size="12" text-anchor="end">74.3826</text>
<text x="827" y="478.3" fill="#1E1E28" font-size="12">74.3826</text>
<text x="66.5" y="503.3" fill="#1E1E28" font-size="12" text-anchor="end">58.7476</text>
<text x="827" y="503.3" fill="#1E1E28" font-size="12">58.7476</text>
<text x="66.5" y="528.3" fill="#1E1E28" font-size="12" text-anchor="end">43.1125</text>
<text x="827" y="528.3" fill="#1E1E28" font-size="12">43.1125</text>
<g clip-path="url(#cm)">
<path d="M71 181.5h3M77 181.5h3M83 181.5h3M89 181.5h3M95 181.5h3M101 181.5h3M107 181.5h3M113 181.5h3M119 181.5h3M125 181.5h3M131 181.5h3M137 181.5h3M143 181.5h3M149 181.5h3M155 181.5h3M161 181.5h3M167 181.5h3M173 181.5h3M179 181.5h3M185 181.5h3M191 181.5h3M197 181.5h3M203 181.5h3M209 181.5h3M215 181.5h3M221 181.5h3M227 181.5h3M233 181.5h3M239 181.5h3M245 181.5h3M251 181.5h3M257 181.5h3M263 181.5h3M269 181.5h3M275 181.5h3M281 181.5h3M287 181.5h3M293 181.5h3M299 181.5h3M305 181.5h3M311 181.5h3M317 181.5h3M323 181.5h3M329 181.5h3M335 181.5h3M341 181.5h3M347 181.5h3M353 181.5h3M359 181.5h3M365 181.5h3M371 181.5h3M377 181.5h3M383 181.5h3M389 181.5h3M395 181.5h3M401 181.5h3M407 181.5h3M413 181.5h3M419 181.5h3M425 181.5h3M431 181.5h3M437 181.5h3M443 181.5h3M449 181.5h3M455 181.5h3M461 181.5h3M467 181.5h3M473 181.5h3M479 181.5h3M485 181.5h3M491 181.5h3M497 181.5h3M503 181.5h3M509 181.5h3M515 181.5h3M521 181.5h3M527 181.5h3M533 181.5h3M539 181.5h3M545 181.5h3M551 181.5h3M557 181.5h3M563 181.5h3M569 181.5h3M575 181.5h3M581 181.5h3M587 181.5h3M593 181.5h3M599 181.5h3M605 181.5h3M611 181.5h3M617 181.5h3M623 181.5h3M629 181.5h3M635 181.5h3M641 181.5h3M647 181.5h3M653 181.5h3M659 181.5h3M665 181.5h3M671 181.5h3M677 181.5h3M683 181.5h3M689 181.5h3M695 181.5h3M701 181.5h3M707 181.5h3M713 181.5h3M719 181.5h3M725 181.5h3M731 181.5h3M737 181.5h3M743 181.5h3M749 181.5h3M755 181.5h3M761 181.5h3M767 181.5h3M773 181.5h3M779 181.5h3M785 181.5h3M791 181.5h3M797 181.5h3M803 181.5h3M809 181.5h3M815 181.5h3M821 181.5h3" stroke="#1E8CF5" stroke-width="1" fill="none"/>
<polyline points="70.5,85.2 73.4,85.4 83.4,86.5 92.4,89.2 103.6,91.4 114.8,93.7 126.0,96.6 137.2,100.2 148.4,103.0 159.6,106.0 165.0,107.4 178.4,110.9 191.9,115.2 205.3,117.6 218.8,119.2 225.5,120.3 240.3,121.2 259.1,120.5 272.5,121.2 280.0,121.4 288.1,122.4 300.2,123.2 313.6,124.5 327.0,126.4 340.5,129.1 353.9,131.5 367.4,133.9 376.8,135.0 387.5,136.3 395.0,136.8 408.4,137.8 421.9,138.2 435.3,138.7 448.8,139.5 462.2,140.1 475.6,142.2 489.1,144.9 502.5,147.8 510.0,149.4 523.4,152.8 536.9,156.8 550.3,160.4 563.8,165.3 577.2,170.2 590.6,174.7 604.1,178.0 617.5,180.3 627.8,181.9 635.7,182.6 643.5,183.8 651.3,185.1 659.2,185.8 667.0,186.9 682.7,188.2 695.2,189.3 714.0,189.3 729.7,189.3 736.0,188.5 745.4,188.2" fill="none" stroke="#E27BDF" stroke-width="1" shape-rendering="crispEdges"/>
<polyline points="70.5,85.5 73.4,85.8 81.2,90.6 86.8,94.3 94.6,101.3 103.6,107.4 109.2,110.8 114.8,113.6 120.4,118.1 125.0,123.0 131.7,130.8 138.4,136.8 145.2,142.2 151.9,144.9 158.6,148.2 165.3,151.2 172.0,155.2 178.8,159.7 185.5,163.7 192.2,169.5 195.0,170.8 205.6,172.4 214.0,172.4 221.1,172.2 228.1,170.7 236.5,169.1 243.6,166.8 250.6,163.7 256.2,160.2 263.2,157.4 270.3,155.6 278.7,154.6 287.1,153.6 295.5,153.6 304.0,154.6 312.4,157.0 320.0,159.0 333.4,162.8 346.9,166.9 357.6,171.2 364.4,173.3 373.8,173.6 380.5,175.0 387.2,174.3 400.6,174.3 411.4,173.9 419.5,172.5 427.5,170.2 435.3,168.7 444.7,167.3 455.5,167.7 464.9,167.7 470.3,168.7 477.0,169.1 481.4,172.1 488.4,176.3 496.9,179.8 505.3,184.1 515.2,191.1 522.2,196.0 532.0,203.8 539.1,207.7 547.5,214.3 555.9,221.3 564.4,227.7 572.8,234.7 580.0,239.2 585.3,243.1 596.1,247.2 605.5,248.5 616.2,249.5 623.0,249.2 631.0,246.5 639.1,245.8 649.8,244.9 659.2,243.8 670.5,240.8 677.6,239.1 695.1,235.6 709.2,232.9 721.5,227.7 730.3,223.3 739.1,218.9 744.4,216.2" fill="none" stroke="#2DBE78" stroke-width="1" shape-rendering="crispEdges"/>
<polyline points="70.5,99.8 73.4,100.2 80.1,106.3 86.2,113.0 88.5,118.1 92.4,124.2 95.0,127.4 99.7,134.5 104.5,140.0 110.8,142.4 115.6,145.6 120.3,150.3 125.0,158.2 129.8,166.1 136.1,174.8 142.4,181.9 146.4,185.4 151.9,186.3 158.2,185.9 163.0,185.4 167.7,190.6 174.0,194.6 180.4,199.3 186.7,203.3 193.8,208.0 199.3,206.0 205.7,204.0 212.0,199.3 214.0,198.6 221.1,193.9 228.1,187.6 235.1,181.3 242.2,175.0 247.8,169.3 252.0,163.0 256.2,156.0 261.8,149.7 268.8,146.6 275.9,146.2 284.3,144.3 289.9,144.8 298.4,147.1 305.5,149.7 312.3,155.0 319.0,161.7 325.7,166.2 331.0,170.0 337.5,176.0 346.9,178.7 356.3,183.0 364.4,186.4 373.8,185.7 381.8,186.4 387.2,184.4 395.3,181.7 403.3,181.0 411.3,177.0 421.9,172.0 430.0,168.3 438.0,164.2 444.7,162.4 450.1,162.4 454.1,164.2 460.9,163.3 467.6,168.0 471.6,168.7 477.0,168.7 481.0,174.7 487.0,182.7 494.1,190.8 499.7,194.6 505.3,200.2 510.9,207.3 516.6,215.0 522.2,222.0 529.2,229.1 536.3,235.8 541.9,241.7 545.0,245.8 551.7,253.2 558.4,261.3 565.2,268.0 571.9,273.4 578.6,279.4 585.3,282.5 590.7,283.5 596.1,282.5 601.5,279.4 606.8,275.8 612.2,273.4 618.9,271.4 624.3,268.0 629.7,261.3 636.4,257.9 641.8,255.2 647.2,251.2 652.5,248.5 659.2,247.0 670.5,241.7 677.6,235.6 686.4,232.4 695.1,231.2 703.9,225.9 712.7,224.1 718.0,219.8 725.0,209.2 733.8,199.5 739.1,196.0 744.4,195.1" fill="none" stroke="#2383F5" stroke-width="1" shape-rendering="crispEdges"/>
<rect x="73" y="130" width="1" height="20" fill="#E8414F"/>
<rect x="72" y="139" width="3" height="1" fill="#E8414F"/>
<rect x="77" y="125" width="1" height="24" fill="#E8414F"/>
<rect x="76" y="136" width="3" height="3" fill="#E8414F"/>
<rect x="81" y="127" width="1" height="28" fill="#4DB380"/>
<rect x="80" y="136" width="3" height="12" fill="#4DB380"/>
<rect x="85" y="143" width="1" height="14" fill="#4DB380"/>
<rect x="84" y="147" width="3" height="9" fill="#4DB380"/>
<rect x="89" y="156" width="1" height="29" fill="#4DB380"/>
<rect x="88" y="156" width="3" height="26" fill="#4DB380"/>
<rect x="93" y="166" width="1" height="26" fill="#4DB380"/>
<rect x="92" y="183" width="3" height="4" fill="#4DB380"/>
<rect x="97" y="165" width="1" height="29" fill="#E8414F"/>
<rect x="96" y="170" width="3" height="17" fill="#E8414F"/>
<rect x="101" y="158" width="1" height="41" fill="#4DB380"/>
<rect x="100" y="170" width="3" height="26" fill="#4DB380"/>
<rect x="105" y="169" width="1" height="30" fill="#E8414F"/>
<rect x="104" y="175" width="3" height="21" fill="#E8414F"/>
<rect x="109" y="162" width="1" height="19" fill="#E8414F"/>
<rect x="108" y="167" width="3" height="8" fill="#E8414F"/>
<rect x="113" y="155" width="1" height="11" fill="#E8414F"/>
<rect x="112" y="158" width="3" height="7" fill="#E8414F"/>
<rect x="117" y="155" width="1" height="42" fill="#4DB380"/>
<rect x="116" y="158" width="3" height="30" fill="#4DB380"/>
<rect x="121" y="174" width="1" height="21" fill="#E8414F"/>
<rect x="120" y="187" width="3" height="2" fill="#E8414F"/>
<rect x="125" y="178" width="1" height="70" fill="#4DB380"/>
<rect x="124" y="187" width="3" height="52" fill="#4DB380"/>
<rect x="129" y="230" width="1" height="24" fill="#E8414F"/>
<rect x="128" y="233" width="3" height="6" fill="#E8414F"/>
<rect x="133" y="226" width="1" height="12" fill="#E8414F"/>
<rect x="132" y="229" width="3" height="4" fill="#E8414F"/>
<rect x="137" y="222" width="1" height="11" fill="#E8414F"/>
<rect x="136" y="224" width="3" height="6" fill="#E8414F"/>
<rect x="141" y="209" width="1" height="25" fill="#E8414F"/>
<rect x="140" y="220" width="3" height="4" fill="#E8414F"/>
<rect x="145" y="214" width="1" height="23" fill="#4DB380"/>
<rect x="144" y="220" width="3" height="6" fill="#4DB380"/>
<rect x="149" y="171" width="1" height="62" fill="#E8414F"/>
<rect x="148" y="195" width="3" height="31" fill="#E8414F"/>
<rect x="153" y="177" width="1" height="25" fill="#E8414F"/>
<rect x="152" y="182" width="3" height="13" fill="#E8414F"/>
<rect x="157" y="185" width="1" height="22" fill="#E8414F"/>
<rect x="156" y="186" width="3" height="7" fill="#E8414F"/>
<rect x="161" y="174" width="1" height="15" fill="#E8414F"/>
<rect x="160" y="182" width="3" height="2" fill="#E8414F"/>
<rect x="165" y="172" width="1" height="44" fill="#4DB380"/>
<rect x="164" y="181" width="3" height="32" fill="#4DB380"/>
<rect x="169" y="201" width="1" height="32" fill="#4DB380"/>
<rect x="168" y="214" width="3" height="15" fill="#4DB380"/>
<rect x="173" y="219" width="1" height="17" fill="#E8414F"/>
<rect x="172" y="221" width="3" height="8" fill="#E8414F"/>
<rect x="177" y="220" width="1" height="11" fill="#4DB380"/>
<rect x="176" y="221" width="3" height="7" fill="#4DB380"/>
<rect x="181" y="223" width="1" height="17" fill="#4DB380"/>
<rect x="180" y="227" width="3" height="9" fill="#4DB380"/>
<rect x="185" y="206" width="1" height="31" fill="#E8414F"/>
<rect x="184" y="208" width="3" height="28" fill="#E8414F"/>
<rect x="189" y="206" width="1" height="46" fill="#4DB380"/>
<rect x="188" y="208" width="3" height="33" fill="#4DB380"/>
<rect x="193" y="232" width="1" height="16" fill="#4DB380"/>
<rect x="192" y="238" width="3" height="3" fill="#4DB380"/>
<rect x="197" y="186" width="1" height="55" fill="#E8414F"/>
<rect x="196" y="192" width="3" height="49" fill="#E8414F"/>
<rect x="201" y="188" width="1" height="11" fill="#4DB380"/>
<rect x="200" y="192" width="3" height="1" fill="#4DB380"/>
<rect x="205" y="187" width="1" height="11" fill="#E8414F"/>
<rect x="204" y="190" width="3" height="3" fill="#E8414F"/>
<rect x="209" y="176" width="1" height="17" fill="#E8414F"/>
<rect x="208" y="184" width="3" height="6" fill="#E8414F"/>
<rect x="213" y="158" width="1" height="25" fill="#E8414F"/>
<rect x="212" y="170" width="3" height="12" fill="#E8414F"/>
<rect x="217" y="164" width="1" height="23" fill="#4DB380"/>
<rect x="216" y="170" width="3" height="12" fill="#4DB380"/>
<rect x="221" y="156" width="1" height="32" fill="#E8414F"/>
<rect x="220" y="164" width="3" height="19" fill="#E8414F"/>
<rect x="225" y="155" width="1" height="18" fill="#E8414F"/>
<rect x="224" y="156" width="3" height="6" fill="#E8414F"/>
<rect x="229" y="140" width="1" height="19" fill="#E8414F"/>
<rect x="228" y="142" width="3" height="14" fill="#E8414F"/>
<rect x="233" y="131" width="1" height="19" fill="#4DB380"/>
<rect x="232" y="143" width="3" height="5" fill="#4DB380"/>
<rect x="237" y="138" width="1" height="22" fill="#E8414F"/>
<rect x="236" y="146" width="3" height="2" fill="#E8414F"/>
<rect x="241" y="141" width="1" height="14" fill="#E8414F"/>
<rect x="240" y="144" width="3" height="1" fill="#E8414F"/>
<rect x="245" y="127" width="1" height="25" fill="#E8414F"/>
<rect x="244" y="130" width="3" height="14" fill="#E8414F"/>
<rect x="249" y="113" width="1" height="17" fill="#E8414F"/>
<rect x="248" y="121" width="3" height="9" fill="#E8414F"/>
<rect x="253" y="98" width="1" height="26" fill="#E8414F"/>
<rect x="252" y="102" width="3" height="18" fill="#E8414F"/>
<rect x="257" y="97" width="1" height="13" fill="#E8414F"/>
<rect x="256" y="99" width="3" height="3" fill="#E8414F"/>
<rect x="261" y="81" width="1" height="34" fill="#4DB380"/>
<rect x="260" y="99" width="3" height="12" fill="#4DB380"/>
<rect x="265" y="100" width="1" height="38" fill="#4DB380"/>
<rect x="264" y="111" width="3" height="19" fill="#4DB380"/>
<rect x="269" y="125" width="1" height="19" fill="#4DB380"/>
<rect x="268" y="131" width="3" height="3" fill="#4DB380"/>
<rect x="273" y="130" width="1" height="23" fill="#4DB380"/>
<rect x="272" y="134" width="3" height="18" fill="#4DB380"/>
<rect x="277" y="138" width="1" height="14" fill="#E8414F"/>
<rect x="276" y="138" width="3" height="4" fill="#E8414F"/>
<rect x="281" y="131" width="1" height="14" fill="#E8414F"/>
<rect x="280" y="135" width="3" height="4" fill="#E8414F"/>
<rect x="285" y="130" width="1" height="20" fill="#4DB380"/>
<rect x="284" y="134" width="3" height="8" fill="#4DB380"/>
<rect x="289" y="137" width="1" height="20" fill="#4DB380"/>
<rect x="288" y="142" width="3" height="4" fill="#4DB380"/>
<rect x="293" y="140" width="1" height="15" fill="#4DB380"/>
<rect x="292" y="146" width="3" height="7" fill="#4DB380"/>
<rect x="297" y="150" width="1" height="14" fill="#4DB380"/>
<rect x="296" y="152" width="3" height="11" fill="#4DB380"/>
<rect x="301" y="149" width="1" height="14" fill="#E8414F"/>
<rect x="300" y="152" width="3" height="10" fill="#E8414F"/>
<rect x="305" y="151" width="1" height="18" fill="#4DB380"/>
<rect x="304" y="152" width="3" height="15" fill="#4DB380"/>
<rect x="309" y="165" width="1" height="22" fill="#4DB380"/>
<rect x="308" y="167" width="3" height="14" fill="#4DB380"/>
<rect x="313" y="175" width="1" height="22" fill="#4DB380"/>
<rect x="312" y="181" width="3" height="8" fill="#4DB380"/>
<rect x="317" y="177" width="1" height="24" fill="#4DB380"/>
<rect x="316" y="190" width="3" height="2" fill="#4DB380"/>
<rect x="321" y="190" width="1" height="11" fill="#4DB380"/>
<rect x="320" y="192" width="3" height="7" fill="#4DB380"/>
<rect x="325" y="192" width="1" height="9" fill="#E8414F"/>
<rect x="324" y="196" width="3" height="3" fill="#E8414F"/>
<rect x="329" y="189" width="1" height="8" fill="#E8414F"/>
<rect x="328" y="191" width="3" height="5" fill="#E8414F"/>
<rect x="333" y="185" width="1" height="24" fill="#4DB380"/>
<rect x="332" y="192" width="3" height="10" fill="#4DB380"/>
<rect x="337" y="198" width="1" height="22" fill="#4DB380"/>
<rect x="336" y="203" width="3" height="12" fill="#4DB380"/>
<rect x="341" y="178" width="1" height="38" fill="#E8414F"/>
<rect x="340" y="182" width="3" height="34" fill="#E8414F"/>
<rect x="345" y="180" width="1" height="14" fill="#4DB380"/>
<rect x="344" y="182" width="3" height="10" fill="#4DB380"/>
<rect x="349" y="187" width="1" height="12" fill="#4DB380"/>
<rect x="348" y="191" width="3" height="5" fill="#4DB380"/>
<rect x="353" y="194" width="1" height="14" fill="#4DB380"/>
<rect x="352" y="196" width="3" height="5" fill="#4DB380"/>
<rect x="357" y="195" width="1" height="13" fill="#4DB380"/>
<rect x="356" y="202" width="3" height="1" fill="#4DB380"/>
<rect x="361" y="194" width="1" height="17" fill="#E8414F"/>
<rect x="360" y="199" width="3" height="5" fill="#E8414F"/>
<rect x="365" y="182" width="1" height="19" fill="#E8414F"/>
<rect x="364" y="194" width="3" height="5" fill="#E8414F"/>
<rect x="369" y="181" width="1" height="15" fill="#E8414F"/>
<rect x="368" y="184" width="3" height="10" fill="#E8414F"/>
<rect x="373" y="179" width="1" height="8" fill="#E8414F"/>
<rect x="372" y="182" width="3" height="4" fill="#E8414F"/>
<rect x="377" y="182" width="1" height="12" fill="#4DB380"/>
<rect x="376" y="184" width="3" height="9" fill="#4DB380"/>
<rect x="381" y="174" width="1" height="23" fill="#E8414F"/>
<rect x="380" y="190" width="3" height="3" fill="#E8414F"/>
<rect x="385" y="154" width="1" height="41" fill="#E8414F"/>
<rect x="384" y="169" width="3" height="25" fill="#E8414F"/>
<rect x="389" y="159" width="1" height="23" fill="#4DB380"/>
<rect x="388" y="169" width="3" height="7" fill="#4DB380"/>
<rect x="393" y="166" width="1" height="14" fill="#E8414F"/>
<rect x="392" y="174" width="3" height="3" fill="#E8414F"/>
<rect x="397" y="165" width="1" height="12" fill="#E8414F"/>
<rect x="396" y="168" width="3" height="4" fill="#E8414F"/>
<rect x="401" y="155" width="1" height="25" fill="#4DB380"/>
<rect x="400" y="168" width="3" height="9" fill="#4DB380"/>
<rect x="405" y="169" width="1" height="13" fill="#E8414F"/>
<rect x="404" y="175" width="3" height="2" fill="#E8414F"/>
<rect x="409" y="152" width="1" height="23" fill="#E8414F"/>
<rect x="408" y="163" width="3" height="11" fill="#E8414F"/>
<rect x="413" y="160" width="1" height="8" fill="#4DB380"/>
<rect x="412" y="162" width="3" height="3" fill="#4DB380"/>
<rect x="417" y="152" width="1" height="15" fill="#E8414F"/>
<rect x="416" y="160" width="3" height="6" fill="#E8414F"/>
<rect x="421" y="145" width="1" height="15" fill="#E8414F"/>
<rect x="420" y="149" width="3" height="10" fill="#E8414F"/>
<rect x="425" y="137" width="1" height="13" fill="#E8414F"/>
<rect x="424" y="140" width="3" height="9" fill="#E8414F"/>
<rect x="429" y="137" width="1" height="17" fill="#4DB380"/>
<rect x="428" y="140" width="3" height="13" fill="#4DB380"/>
<rect x="433" y="138" width="1" height="29" fill="#4DB380"/>
<rect x="432" y="153" width="3" height="11" fill="#4DB380"/>
<rect x="437" y="137" width="1" height="39" fill="#E8414F"/>
<rect x="436" y="138" width="3" height="26" fill="#E8414F"/>
<rect x="441" y="136" width="1" height="17" fill="#4DB380"/>
<rect x="440" y="138" width="3" height="14" fill="#4DB380"/>
<rect x="445" y="143" width="1" height="11" fill="#E8414F"/>
<rect x="444" y="150" width="3" height="2" fill="#E8414F"/>
<rect x="449" y="148" width="1" height="22" fill="#4DB380"/>
<rect x="448" y="150" width="3" height="19" fill="#4DB380"/>
<rect x="453" y="164" width="1" height="15" fill="#4DB380"/>
<rect x="452" y="169" width="3" height="10" fill="#4DB380"/>
<rect x="457" y="154" width="1" height="28" fill="#E8414F"/>
<rect x="456" y="169" width="3" height="12" fill="#E8414F"/>
<rect x="461" y="139" width="1" height="31" fill="#E8414F"/>
<rect x="460" y="148" width="3" height="21" fill="#E8414F"/>
<rect x="465" y="146" width="1" height="74" fill="#4DB380"/>
<rect x="464" y="148" width="3" height="50" fill="#4DB380"/>
<rect x="469" y="185" width="1" height="17" fill="#E8414F"/>
<rect x="468" y="189" width="3" height="9" fill="#E8414F"/>
<rect x="473" y="165" width="1" height="25" fill="#E8414F"/>
<rect x="472" y="170" width="3" height="19" fill="#E8414F"/>
<rect x="477" y="168" width="1" height="24" fill="#4DB380"/>
<rect x="476" y="171" width="3" height="14" fill="#4DB380"/>
<rect x="481" y="172" width="1" height="70" fill="#4DB380"/>
<rect x="480" y="185" width="3" height="57" fill="#4DB380"/>
<rect x="485" y="212" width="1" height="36" fill="#E8414F"/>
<rect x="484" y="229" width="3" height="13" fill="#E8414F"/>
<rect x="489" y="225" width="1" height="10" fill="#4DB380"/>
<rect x="488" y="229" width="3" height="4" fill="#4DB380"/>
<rect x="493" y="220" width="1" height="13" fill="#E8414F"/>
<rect x="492" y="224" width="3" height="8" fill="#E8414F"/>
<rect x="497" y="220" width="1" height="12" fill="#4DB380"/>
<rect x="496" y="224" width="3" height="2" fill="#4DB380"/>
<rect x="501" y="223" width="1" height="18" fill="#4DB380"/>
<rect x="500" y="226" width="3" height="1" fill="#4DB380"/>
<rect x="505" y="220" width="1" height="22" fill="#4DB380"/>
<rect x="504" y="228" width="3" height="13" fill="#4DB380"/>
<rect x="509" y="239" width="1" height="32" fill="#4DB380"/>
<rect x="508" y="241" width="3" height="24" fill="#4DB380"/>
<rect x="513" y="256" width="1" height="15" fill="#E8414F"/>
<rect x="512" y="259" width="3" height="5" fill="#E8414F"/>
<rect x="517" y="256" width="1" height="15" fill="#4DB380"/>
<rect x="516" y="266" width="3" height="1" fill="#4DB380"/>
<rect x="521" y="256" width="1" height="10" fill="#E8414F"/>
<rect x="520" y="260" width="3" height="5" fill="#E8414F"/>
<rect x="525" y="254" width="1" height="28" fill="#4DB380"/>
<rect x="524" y="260" width="3" height="17" fill="#4DB380"/>
<rect x="529" y="271" width="1" height="15" fill="#4DB380"/>
<rect x="528" y="278" width="3" height="4" fill="#4DB380"/>
<rect x="533" y="256" width="1" height="30" fill="#E8414F"/>
<rect x="532" y="267" width="3" height="15" fill="#E8414F"/>
<rect x="537" y="263" width="1" height="8" fill="#4DB380"/>
<rect x="536" y="266" width="3" height="4" fill="#4DB380"/>
<rect x="541" y="272" width="1" height="19" fill="#4DB380"/>
<rect x="540" y="275" width="3" height="8" fill="#4DB380"/>
<rect x="545" y="275" width="1" height="12" fill="#E8414F"/>
<rect x="544" y="280" width="3" height="3" fill="#E8414F"/>
<rect x="549" y="260" width="1" height="31" fill="#4DB380"/>
<rect x="548" y="280" width="3" height="10" fill="#4DB380"/>
<rect x="553" y="282" width="1" height="29" fill="#4DB380"/>
<rect x="552" y="291" width="3" height="9" fill="#4DB380"/>
<rect x="557" y="294" width="1" height="21" fill="#4DB380"/>
<rect x="556" y="300" width="3" height="6" fill="#4DB380"/>
<rect x="561" y="303" width="1" height="10" fill="#4DB380"/>
<rect x="560" y="307" width="3" height="1" fill="#4DB380"/>
<rect x="565" y="293" width="1" height="19" fill="#E8414F"/>
<rect x="564" y="301" width="3" height="7" fill="#E8414F"/>
<rect x="569" y="297" width="1" height="8" fill="#E8414F"/>
<rect x="568" y="300" width="3" height="1" fill="#E8414F"/>
<rect x="573" y="296" width="1" height="12" fill="#4DB380"/>
<rect x="572" y="300" width="3" height="7" fill="#4DB380"/>
<rect x="577" y="297" width="1" height="19" fill="#4DB380"/>
<rect x="576" y="307" width="3" height="8" fill="#4DB380"/>
<rect x="581" y="298" width="1" height="23" fill="#E8414F"/>
<rect x="580" y="310" width="3" height="6" fill="#E8414F"/>
<rect x="585" y="297" width="1" height="13" fill="#E8414F"/>
<rect x="584" y="299" width="3" height="11" fill="#E8414F"/>
<rect x="589" y="284" width="1" height="16" fill="#E8414F"/>
<rect x="588" y="285" width="3" height="14" fill="#E8414F"/>
<rect x="593" y="281" width="1" height="6" fill="#E8414F"/>
<rect x="592" y="282" width="3" height="4" fill="#E8414F"/>
<rect x="597" y="268" width="1" height="19" fill="#E8414F"/>
<rect x="596" y="279" width="3" height="7" fill="#E8414F"/>
<rect x="601" y="251" width="1" height="31" fill="#E8414F"/>
<rect x="600" y="259" width="3" height="21" fill="#E8414F"/>
<rect x="605" y="252" width="1" height="22" fill="#E8414F"/>
<rect x="604" y="255" width="3" height="4" fill="#E8414F"/>
<rect x="609" y="243" width="1" height="12" fill="#E8414F"/>
<rect x="608" y="248" width="3" height="6" fill="#E8414F"/>
<rect x="613" y="243" width="1" height="15" fill="#4DB380"/>
<rect x="612" y="248" width="3" height="8" fill="#4DB380"/>
<rect x="617" y="252" width="1" height="9" fill="#4DB380"/>
<rect x="616" y="257" width="3" height="3" fill="#4DB380"/>
<rect x="621" y="253" width="1" height="11" fill="#E8414F"/>
<rect x="620" y="257" width="3" height="3" fill="#E8414F"/>
<rect x="625" y="227" width="1" height="30" fill="#E8414F"/>
<rect x="624" y="230" width="3" height="26" fill="#E8414F"/>
<rect x="629" y="208" width="1" height="23" fill="#E8414F"/>
<rect x="628" y="218" width="3" height="12" fill="#E8414F"/>
<rect x="633" y="214" width="1" height="26" fill="#4DB380"/>
<rect x="632" y="219" width="3" height="15" fill="#4DB380"/>
<rect x="637" y="235" width="1" height="17" fill="#E8414F"/>
<rect x="636" y="240" width="3" height="3" fill="#E8414F"/>
<rect x="641" y="230" width="1" height="13" fill="#E8414F"/>
<rect x="640" y="235" width="3" height="4" fill="#E8414F"/>
<rect x="645" y="215" width="1" height="28" fill="#E8414F"/>
<rect x="644" y="230" width="3" height="4" fill="#E8414F"/>
<rect x="649" y="220" width="1" height="22" fill="#E8414F"/>
<rect x="648" y="229" width="3" height="1" fill="#E8414F"/>
<rect x="653" y="228" width="1" height="26" fill="#4DB380"/>
<rect x="652" y="230" width="3" height="6" fill="#4DB380"/>
<rect x="657" y="232" width="1" height="9" fill="#4DB380"/>
<rect x="656" y="236" width="3" height="4" fill="#4DB380"/>
<rect x="661" y="237" width="1" height="10" fill="#4DB380"/>
<rect x="660" y="240" width="3" height="2" fill="#4DB380"/>
<rect x="665" y="232" width="1" height="11" fill="#E8414F"/>
<rect x="664" y="235" width="3" height="7" fill="#E8414F"/>
<rect x="669" y="228" width="1" height="13" fill="#E8414F"/>
<rect x="668" y="233" width="3" height="5" fill="#E8414F"/>
<rect x="673" y="194" width="1" height="39" fill="#E8414F"/>
<rect x="672" y="199" width="3" height="34" fill="#E8414F"/>
<rect x="677" y="195" width="1" height="13" fill="#4DB380"/>
<rect x="676" y="199" width="3" height="6" fill="#4DB380"/>
<rect x="681" y="203" width="1" height="14" fill="#4DB380"/>
<rect x="680" y="205" width="3" height="11" fill="#4DB380"/>
<rect x="685" y="211" width="1" height="14" fill="#4DB380"/>
<rect x="684" y="217" width="3" height="4" fill="#4DB380"/>
<rect x="689" y="216" width="1" height="11" fill="#E8414F"/>
<rect x="688" y="218" width="3" height="4" fill="#E8414F"/>
<rect x="693" y="209" width="1" height="21" fill="#4DB380"/>
<rect x="692" y="221" width="3" height="7" fill="#4DB380"/>
<rect x="697" y="219" width="1" height="11" fill="#E8414F"/>
<rect x="696" y="226" width="3" height="2" fill="#E8414F"/>
<rect x="701" y="201" width="1" height="30" fill="#E8414F"/>
<rect x="700" y="207" width="3" height="19" fill="#E8414F"/>
<rect x="705" y="205" width="1" height="9" fill="#E8414F"/>
<rect x="704" y="206" width="3" height="2" fill="#E8414F"/>
<rect x="709" y="204" width="1" height="14" fill="#4DB380"/>
<rect x="708" y="207" width="3" height="3" fill="#4DB380"/>
<rect x="713" y="206" width="1" height="11" fill="#4DB380"/>
<rect x="712" y="210" width="3" height="6" fill="#4DB380"/>
<rect x="717" y="167" width="1" height="49" fill="#E8414F"/>
<rect x="716" y="185" width="3" height="31" fill="#E8414F"/>
<rect x="721" y="176" width="1" height="19" fill="#E8414F"/>
<rect x="720" y="181" width="3" height="3" fill="#E8414F"/>
<rect x="725" y="148" width="1" height="35" fill="#E8414F"/>
<rect x="724" y="154" width="3" height="27" fill="#E8414F"/>
<rect x="729" y="152" width="1" height="19" fill="#4DB380"/>
<rect x="728" y="154" width="3" height="14" fill="#4DB380"/>
<rect x="733" y="164" width="1" height="13" fill="#4DB380"/>
<rect x="732" y="168" width="3" height="2" fill="#4DB380"/>
<rect x="737" y="155" width="1" height="17" fill="#E8414F"/>
<rect x="736" y="156" width="3" height="14" fill="#E8414F"/>
<rect x="741" y="154" width="1" height="26" fill="#4DB380"/>
<rect x="740" y="155" width="3" height="25" fill="#4DB380"/>
<rect x="745" y="180" width="1" height="11" fill="#4DB380"/>
<rect x="744" y="180" width="3" height="1" fill="#4DB380"/>
<rect x="71" y="252" width="752" height="10" fill="#4646EE" fill-opacity="0.21"/>
<text x="134.5" y="264.6" fill="#4FA898" font-size="12" font-weight="bold">1.1541</text>
<text x="586.5" y="331.5" fill="#4FA898" font-size="12" font-weight="bold">1.1468</text>
<rect x="70" y="79" width="753" height="1" fill="#0000FF"/>
<rect x="70" y="134" width="753" height="1" fill="#0000FF"/>
<rect x="70" y="221" width="753" height="1" fill="#0000FF"/>
<line x1="70" y1="44" x2="823" y2="192.2" stroke="#0000FF" stroke-width="1" shape-rendering="crispEdges"/>
<line x1="70" y1="216.5" x2="823" y2="371.5" stroke="#0000FF" stroke-width="1" shape-rendering="crispEdges"/>
<line x1="70" y1="130.9" x2="820" y2="279.7" stroke="#0000FF" stroke-width="1" stroke-dasharray="3,3" stroke-dashoffset="3" shape-rendering="crispEdges"/>
<rect x="259" y="82" width="7" height="1" fill="#000"/>
<rect x="261" y="80" width="1" height="5" fill="#000"/>
<rect x="127" y="253" width="7" height="1" fill="#000"/>
<rect x="129" y="250" width="1" height="3" fill="#000"/>
<rect x="579" y="320" width="7" height="1" fill="#000"/>
<rect x="581" y="317" width="1" height="3" fill="#000"/>
<rect x="723" y="148" width="7" height="1" fill="#000"/>
<rect x="725" y="146" width="1" height="5" fill="#000"/>
</g>
<text x="266.5" y="78.8" fill="#E8475A" font-size="12" font-weight="bold">1.1727</text>
<text x="730.5" y="145" fill="#E8475A" font-size="12" font-weight="bold">1.1655</text>
<text x="785.5" y="76" fill="#0000FF" font-size="12">1.1730</text>
<text x="785.5" y="130.8" fill="#0000FF" font-size="12">1.1670</text>
<text x="785.5" y="217.9" fill="#0000FF" font-size="12">1.1575</text>
<text x="753" y="268.6" fill="#1A1AFF" font-size="12" letter-spacing="0.3">1.1530</text>
<rect x="823.5" y="181.5" width="68" height="17" fill="#fff" stroke="#FF8214" stroke-width="1"/>
<text x="827" y="194.3" fill="#FF8214" font-size="12">1.1619</text>
<path d="M887 173.5 L890.5 177 L883.5 177 Z M884.5 178 L889.5 178 L890.5 181 L883.5 181 Z" fill="#FF8214"/>
<g clip-path="url(#cmacd)">
<rect x="73" y="399" width="1" height="17" fill="#4DB380"/>
<rect x="77" y="399" width="1" height="16" fill="#4DB380"/>
<rect x="81" y="399" width="1" height="17" fill="#4DB380"/>
<rect x="85" y="399" width="1" height="20" fill="#4DB380"/>
<rect x="89" y="399" width="1" height="25" fill="#4DB380"/>
<rect x="93" y="399" width="1" height="27" fill="#4DB380"/>
<rect x="97" y="399" width="1" height="23" fill="#4DB380"/>
<rect x="101" y="399" width="1" height="25" fill="#4DB380"/>
<rect x="105" y="399" width="1" height="20" fill="#4DB380"/>
<rect x="109" y="399" width="1" height="13" fill="#4DB380"/>
<rect x="113" y="399" width="1" height="5" fill="#4DB380"/>
<rect x="117" y="399" width="1" height="7" fill="#4DB380"/>
<rect x="121" y="399" width="1" height="6" fill="#4DB380"/>
<rect x="125" y="399" width="1" height="16" fill="#4DB380"/>
<rect x="129" y="399" width="1" height="19" fill="#4DB380"/>
<rect x="133" y="399" width="1" height="19" fill="#4DB380"/>
<rect x="137" y="399" width="1" height="16" fill="#4DB380"/>
<rect x="141" y="399" width="1" height="11" fill="#4DB380"/>
<rect x="145" y="399" width="1" height="8" fill="#4DB380"/>
<rect x="149" y="396" width="1" height="4" fill="#E8414F"/>
<rect x="153" y="387" width="1" height="13" fill="#E8414F"/>
<rect x="157" y="381" width="1" height="19" fill="#E8414F"/>
<rect x="161" y="377" width="1" height="23" fill="#E8414F"/>
<rect x="165" y="382" width="1" height="18" fill="#E8414F"/>
<rect x="169" y="388" width="1" height="12" fill="#E8414F"/>
<rect x="173" y="391" width="1" height="9" fill="#E8414F"/>
<rect x="177" y="393" width="1" height="7" fill="#E8414F"/>
<rect x="181" y="396" width="1" height="4" fill="#E8414F"/>
<rect x="185" y="391" width="1" height="9" fill="#E8414F"/>
<rect x="189" y="395" width="1" height="5" fill="#E8414F"/>
<rect x="193" y="397" width="1" height="3" fill="#E8414F"/>
<rect x="197" y="387" width="1" height="13" fill="#E8414F"/>
<rect x="201" y="381" width="1" height="19" fill="#E8414F"/>
<rect x="205" y="377" width="1" height="23" fill="#E8414F"/>
<rect x="209" y="374" width="1" height="26" fill="#E8414F"/>
<rect x="213" y="370" width="1" height="30" fill="#E8414F"/>
<rect x="217" y="372" width="1" height="28" fill="#E8414F"/>
<rect x="221" y="369" width="1" height="31" fill="#E8414F"/>
<rect x="225" y="367" width="1" height="33" fill="#E8414F"/>
<rect x="229" y="365" width="1" height="35" fill="#E8414F"/>
<rect x="233" y="366" width="1" height="34" fill="#E8414F"/>
<rect x="237" y="368" width="1" height="32" fill="#E8414F"/>
<rect x="241" y="371" width="1" height="29" fill="#E8414F"/>
<rect x="245" y="371" width="1" height="29" fill="#E8414F"/>
<rect x="249" y="370" width="1" height="30" fill="#E8414F"/>
<rect x="253" y="368" width="1" height="32" fill="#E8414F"/>
<rect x="257" y="367" width="1" height="33" fill="#E8414F"/>
<rect x="261" y="372" width="1" height="28" fill="#E8414F"/>
<rect x="265" y="381" width="1" height="19" fill="#E8414F"/>
<rect x="269" y="389" width="1" height="11" fill="#E8414F"/>
<rect x="273" y="399" width="1" height="1" fill="#E8414F"/>
<rect x="277" y="399" width="1" height="4" fill="#4DB380"/>
<rect x="281" y="399" width="1" height="6" fill="#4DB380"/>
<rect x="285" y="399" width="1" height="9" fill="#4DB380"/>
<rect x="289" y="399" width="1" height="11" fill="#4DB380"/>
<rect x="293" y="399" width="1" height="13" fill="#4DB380"/>
<rect x="297" y="399" width="1" height="15" fill="#4DB380"/>
<rect x="301" y="399" width="1" height="18" fill="#4DB380"/>
<rect x="305" y="399" width="1" height="20" fill="#4DB380"/>
<rect x="309" y="399" width="1" height="24" fill="#4DB380"/>
<rect x="313" y="399" width="1" height="27" fill="#4DB380"/>
<rect x="317" y="399" width="1" height="29" fill="#4DB380"/>
<rect x="321" y="399" width="1" height="30" fill="#4DB380"/>
<rect x="325" y="399" width="1" height="28" fill="#4DB380"/>
<rect x="329" y="399" width="1" height="25" fill="#4DB380"/>
<rect x="333" y="399" width="1" height="24" fill="#4DB380"/>
<rect x="337" y="399" width="1" height="24" fill="#4DB380"/>
<rect x="341" y="399" width="1" height="15" fill="#4DB380"/>
<rect x="345" y="399" width="1" height="12" fill="#4DB380"/>
<rect x="349" y="399" width="1" height="9" fill="#4DB380"/>
<rect x="353" y="399" width="1" height="8" fill="#4DB380"/>
<rect x="357" y="399" width="1" height="8" fill="#4DB380"/>
<rect x="361" y="399" width="1" height="6" fill="#4DB380"/>
<rect x="365" y="399" width="1" height="1" fill="#4DB380"/>
<rect x="369" y="396" width="1" height="4" fill="#E8414F"/>
<rect x="373" y="393" width="1" height="7" fill="#E8414F"/>
<rect x="377" y="393" width="1" height="7" fill="#E8414F"/>
<rect x="381" y="393" width="1" height="7" fill="#E8414F"/>
<rect x="385" y="388" width="1" height="12" fill="#E8414F"/>
<rect x="389" y="387" width="1" height="13" fill="#E8414F"/>
<rect x="393" y="386" width="1" height="14" fill="#E8414F"/>
<rect x="397" y="385" width="1" height="15" fill="#E8414F"/>
<rect x="401" y="386" width="1" height="14" fill="#E8414F"/>
<rect x="405" y="387" width="1" height="13" fill="#E8414F"/>
<rect x="409" y="386" width="1" height="14" fill="#E8414F"/>
<rect x="413" y="386" width="1" height="14" fill="#E8414F"/>
<rect x="417" y="386" width="1" height="14" fill="#E8414F"/>
<rect x="421" y="384" width="1" height="16" fill="#E8414F"/>
<rect x="425" y="382" width="1" height="18" fill="#E8414F"/>
<rect x="429" y="384" width="1" height="16" fill="#E8414F"/>
<rect x="433" y="389" width="1" height="11" fill="#E8414F"/>
<rect x="437" y="387" width="1" height="13" fill="#E8414F"/>
<rect x="441" y="390" width="1" height="10" fill="#E8414F"/>
<rect x="445" y="391" width="1" height="9" fill="#E8414F"/>
<rect x="449" y="397" width="1" height="3" fill="#E8414F"/>
<rect x="453" y="399" width="1" height="5" fill="#4DB380"/>
<rect x="457" y="399" width="1" height="7" fill="#4DB380"/>
<rect x="461" y="399" width="1" height="3" fill="#4DB380"/>
<rect x="465" y="399" width="1" height="12" fill="#4DB380"/>
<rect x="469" y="399" width="1" height="15" fill="#4DB380"/>
<rect x="473" y="399" width="1" height="12" fill="#4DB380"/>
<rect x="477" y="399" width="1" height="13" fill="#4DB380"/>
<rect x="481" y="399" width="1" height="25" fill="#4DB380"/>
<rect x="485" y="399" width="1" height="28" fill="#4DB380"/>
<rect x="489" y="399" width="1" height="30" fill="#4DB380"/>
<rect x="493" y="399" width="1" height="27" fill="#4DB380"/>
<rect x="497" y="399" width="1" height="25" fill="#4DB380"/>
<rect x="501" y="399" width="1" height="22" fill="#4DB380"/>
<rect x="505" y="399" width="1" height="21" fill="#4DB380"/>
<rect x="509" y="399" width="1" height="24" fill="#4DB380"/>
<rect x="513" y="399" width="1" height="25" fill="#4DB380"/>
<rect x="517" y="399" width="1" height="23" fill="#4DB380"/>
<rect x="521" y="399" width="1" height="21" fill="#4DB380"/>
<rect x="525" y="399" width="1" height="20" fill="#4DB380"/>
<rect x="529" y="399" width="1" height="20" fill="#4DB380"/>
<rect x="533" y="399" width="1" height="15" fill="#4DB380"/>
<rect x="537" y="399" width="1" height="12" fill="#4DB380"/>
<rect x="541" y="399" width="1" height="10" fill="#4DB380"/>
<rect x="545" y="399" width="1" height="8" fill="#4DB380"/>
<rect x="549" y="399" width="1" height="7" fill="#4DB380"/>
<rect x="553" y="399" width="1" height="8" fill="#4DB380"/>
<rect x="557" y="399" width="1" height="8" fill="#4DB380"/>
<rect x="561" y="399" width="1" height="8" fill="#4DB380"/>
<rect x="565" y="399" width="1" height="5" fill="#4DB380"/>
<rect x="569" y="399" width="1" height="2" fill="#4DB380"/>
<rect x="573" y="398" width="1" height="2" fill="#E8414F"/>
<rect x="577" y="398" width="1" height="2" fill="#E8414F"/>
<rect x="581" y="397" width="1" height="3" fill="#E8414F"/>
<rect x="585" y="393" width="1" height="7" fill="#E8414F"/>
<rect x="589" y="386" width="1" height="14" fill="#E8414F"/>
<rect x="593" y="382" width="1" height="18" fill="#E8414F"/>
<rect x="597" y="379" width="1" height="21" fill="#E8414F"/>
<rect x="601" y="373" width="1" height="27" fill="#E8414F"/>
<rect x="605" y="368" width="1" height="32" fill="#E8414F"/>
<rect x="609" y="366" width="1" height="34" fill="#E8414F"/>
<rect x="613" y="367" width="1" height="33" fill="#E8414F"/>
<rect x="617" y="370" width="1" height="30" fill="#E8414F"/>
<rect x="621" y="372" width="1" height="28" fill="#E8414F"/>
<rect x="625" y="369" width="1" height="31" fill="#E8414F"/>
<rect x="629" y="365" width="1" height="35" fill="#E8414F"/>
<rect x="633" y="368" width="1" height="32" fill="#E8414F"/>
<rect x="637" y="373" width="1" height="27" fill="#E8414F"/>
<rect x="641" y="376" width="1" height="24" fill="#E8414F"/>
<rect x="645" y="378" width="1" height="22" fill="#E8414F"/>
<rect x="649" y="381" width="1" height="19" fill="#E8414F"/>
<rect x="653" y="385" width="1" height="15" fill="#E8414F"/>
<rect x="657" y="389" width="1" height="11" fill="#E8414F"/>
<rect x="661" y="393" width="1" height="7" fill="#E8414F"/>
<rect x="665" y="394" width="1" height="6" fill="#E8414F"/>
<rect x="669" y="395" width="1" height="5" fill="#E8414F"/>
<rect x="673" y="389" width="1" height="11" fill="#E8414F"/>
<rect x="677" y="387" width="1" height="13" fill="#E8414F"/>
<rect x="681" y="389" width="1" height="11" fill="#E8414F"/>
<rect x="685" y="393" width="1" height="7" fill="#E8414F"/>
<rect x="689" y="395" width="1" height="5" fill="#E8414F"/>
<rect x="693" y="399" width="1" height="1" fill="#E8414F"/>
<rect x="697" y="399" width="1" height="3" fill="#4DB380"/>
<rect x="701" y="398" width="1" height="2" fill="#E8414F"/>
<rect x="705" y="397" width="1" height="3" fill="#E8414F"/>
<rect x="709" y="397" width="1" height="3" fill="#E8414F"/>
<rect x="713" y="399" width="1" height="1" fill="#4DB380"/>
<rect x="717" y="394" width="1" height="6" fill="#E8414F"/>
<rect x="721" y="390" width="1" height="10" fill="#E8414F"/>
<rect x="725" y="383" width="1" height="17" fill="#E8414F"/>
<rect x="729" y="383" width="1" height="17" fill="#E8414F"/>
<rect x="733" y="384" width="1" height="16" fill="#E8414F"/>
<rect x="737" y="383" width="1" height="17" fill="#E8414F"/>
<rect x="741" y="389" width="1" height="11" fill="#E8414F"/>
<rect x="745" y="395" width="1" height="5" fill="#E8414F"/>
<polyline points="73.5,412.5 75.9,413.3 79.9,415.3 83.8,418.1 87.8,421.2 90.9,423.6 94.1,426.4 98.1,429.1 102.0,431.5 106.0,433.3 109.1,435.1 115.4,435.5 120.1,437.3 126.8,440.5 133.5,443.5 140.2,446.3 145.0,447.4 149.0,447.2 153.7,444.9 160.4,441.4 165.1,438.5 170.0,437.3 178.7,435.1 194.4,432.4 205.6,427.9 216.8,419.0 225.2,410.0 232.5,402.7 237.8,398.0 243.1,392.2 248.4,388.5 253.6,382.7 258.9,376.9 264.2,373.7 269.4,371.6 274.7,371.6 283.1,372.7 290.5,376.4 298.0,379.0 307.5,384.5 315.4,391.6 323.3,398.7 331.2,405.1 339.1,410.3 351.8,415.0 362.8,416.6 372.3,415.3 381.8,413.4 392.9,408.2 405.5,404.0 414.0,400.1 422.8,396.0 431.6,392.5 442.1,389.0 449.1,388.3 459.7,389.5 465.0,390.8 473.8,393.9 480.8,398.3 487.8,405.4 494.8,411.9 501.9,416.8 510.7,422.1 519.4,427.3 528.2,432.6 534.0,436.1 538.8,437.5 547.6,439.6 561.6,443.1 572.2,443.5 582.7,443.1 591.5,440.5 600.3,434.4 609.1,425.6 617.9,415.9 626.7,408.0 635.4,400.1 642.5,395.7 650.0,391.8 654.8,388.6 668.8,386.8 681.1,383.7 689.9,381.0 698.7,382.3 707.5,381.0 716.3,381.6 725.1,376.6 733.9,373.5 739.1,371.7 744.8,370.5" fill="none" stroke="#2DBE78" stroke-width="1" shape-rendering="crispEdges"/>
<polyline points="73.1,420.4 75.9,421.2 79.1,423.4 83.0,426.2 85.4,427.9 87.8,431.9 90.2,434.7 93.3,438.2 96.5,439.2 101.2,443.4 105.2,443.4 109.1,441.4 112.3,439.0 114.7,438.2 116.5,439.5 121.4,439.5 124.1,444.9 129.5,450.4 132.2,451.5 145.6,451.5 147.6,448.2 150.3,445.2 153.0,440.2 156.4,436.1 161.1,430.4 166.5,430.4 170.0,432.4 176.5,432.4 182.1,433.5 186.5,430.2 193.3,432.4 203.3,421.2 213.1,410.9 222.0,397.4 227.3,391.1 232.5,385.8 237.8,380.6 243.1,377.6 248.4,372.7 253.6,367.7 257.8,363.2 261.0,362.4 265.2,363.7 269.4,366.3 272.6,370.6 276.8,373.7 282.1,375.3 287.3,379.5 293.7,384.8 298.0,388.1 304.3,391.6 309.1,397.2 313.8,403.5 321.7,411.4 329.6,415.3 337.5,420.4 343.8,418.5 351.8,418.2 357.3,419.6 364.4,416.9 370.7,413.0 380.2,410.3 389.7,404.6 397.6,400.3 405.5,397.6 414.0,394.3 421.0,391.3 428.0,386.0 433.3,387.3 438.6,384.3 445.6,385.5 450.9,388.3 456.2,391.8 461.5,390.8 466.7,397.8 472.0,400.6 477.3,401.3 482.5,411.5 487.8,419.4 493.1,422.9 498.4,425.2 503.6,427.0 510.7,434.0 519.4,438.8 526.5,442.3 530.0,443.5 540.5,443.1 551.1,443.5 558.1,446.3 563.4,445.8 570.4,444.0 579.2,442.8 584.5,440.0 591.5,432.6 598.5,425.6 603.8,416.8 609.1,408.9 616.1,404.5 621.4,401.8 625.8,395.7 629.3,389.5 635.4,386.9 642.5,384.8 649.5,381.9 654.8,383.3 661.8,385.1 668.8,385.4 674.1,379.8 677.6,378.0 682.9,378.4 688.2,379.8 693.5,381.0 697.8,382.8 704.0,380.7 712.8,381.0 718.0,377.5 721.6,374.9 726.8,368.2 733.9,366.1 737.4,364.3 740.9,365.2 744.8,367.5" fill="none" stroke="#2383F5" stroke-width="1" shape-rendering="crispEdges"/>
</g>
<g clip-path="url(#crsi)">
<polyline points="73.5,535.3 77.5,533.3 81.5,536.5 85.5,539.2 89.5,547.8 93.5,548.2 97.5,538.3 101.5,546.0 105.5,534.7 109.5,529.4 113.5,525.4 117.5,536.0 121.5,534.4 125.5,548.2 129.5,544.6 133.5,542.8 137.5,540.6 141.5,537.4 145.5,538.9 149.5,522.7 153.5,517.4 157.5,517.7 161.5,516.3 165.5,528.1 169.5,533.8 173.5,530.3 177.5,532.0 181.5,534.9 185.5,520.4 189.5,531.2 193.5,532.4 197.5,511.4 201.5,510.9 205.5,510.2 209.5,507.9 213.5,503.0 217.5,508.8 221.5,501.6 225.5,498.5 229.5,494.4 233.5,498.4 237.5,497.1 241.5,496.2 245.5,491.7 249.5,488.1 253.5,482.8 257.5,481.5 261.5,490.8 265.5,499.8 269.5,504.3 273.5,512.7 277.5,507.0 281.5,504.3 285.5,507.3 289.5,512.7 293.5,515.0 297.5,520.4 301.5,513.8 305.5,522.2 309.5,528.5 313.5,532.4 317.5,533.8 321.5,536.0 325.5,533.0 329.5,530.6 333.5,535.3 337.5,541.0 341.5,518.6 345.5,522.7 349.5,524.5 353.5,526.3 357.5,528.1 361.5,525.8 365.5,521.3 369.5,514.1 373.5,514.1 377.5,519.9 381.5,517.9 385.5,504.3 389.5,509.6 393.5,507.9 397.5,504.3 401.5,510.9 405.5,508.8 409.5,502.5 413.5,503.0 417.5,500.2 421.5,493.5 425.5,488.7 429.5,499.8 433.5,509.1 437.5,495.3 441.5,504.8 445.5,503.4 449.5,514.1 453.5,521.3 457.5,515.0 461.5,504.3 465.5,527.0 469.5,521.7 473.5,514.1 477.5,519.5 481.5,537.1 485.5,532.4 489.5,533.5 493.5,529.9 497.5,529.4 501.5,530.6 505.5,535.6 509.5,542.4 513.5,538.3 517.5,541.0 521.5,536.5 525.5,542.4 529.5,543.2 533.5,534.7 537.5,536.5 541.5,539.2 545.5,538.3 549.5,540.6 553.5,543.7 557.5,546.7 561.5,547.3 565.5,541.9 569.5,540.6 573.5,542.8 577.5,547.3 581.5,540.6 585.5,533.0 589.5,521.7 593.5,519.9 597.5,516.8 601.5,504.3 605.5,501.6 609.5,499.4 613.5,505.2 617.5,507.9 621.5,505.5 625.5,492.3 629.5,485.8 633.5,498.4 637.5,500.7 641.5,498.4 645.5,497.6 649.5,496.6 653.5,501.9 657.5,505.2 661.5,507.3 665.5,501.9 669.5,499.8 673.5,483.7 677.5,489.0 681.5,497.2 685.5,502.1 689.5,502.5 693.5,507.4 697.5,506.0 701.5,494.5 705.5,494.5 709.5,496.8 713.5,502.8 717.5,486.3 721.5,484.0 725.5,475.7 729.5,487.0 733.5,488.0 737.5,483.5 741.5,500.3 745.5,501.6" fill="none" stroke="#27A6DE" stroke-width="1" shape-rendering="crispEdges"/>
</g>
<text x="72.5" y="14" fill="#111" font-size="12">欧元美元</text>
<text x="117.7" y="14.5" fill="#FF8214" font-size="12" stroke="#FF8214" stroke-width="0.6">【</text>
<text x="131.1" y="14" fill="#FF8214" font-size="12">240分</text>
<text x="165.4" y="14.5" fill="#FF8214" font-size="12" stroke="#FF8214" stroke-width="0.6">】</text>
<circle cx="181.7" cy="11.3" r="4.2" fill="none" stroke="#FF8C1A" stroke-width="1"/>
<rect x="177.5" y="11" width="8.5" height="1" fill="#FF8C1A"/>
<rect x="181.2" y="7" width="1" height="8.5" fill="#FFB060"/>
<rect x="194.5" y="1.5" width="11" height="12" fill="#fff" stroke="#1A1A8C" stroke-width="1.3"/>
<polyline points="195.5,8.5 198.5,5 201,7.5 205,5.5" fill="none" stroke="#F0262E" stroke-width="1"/>
<polyline points="195.5,11.5 198.5,7.5 201,10.5 205,8.5" fill="none" stroke="#2030F0" stroke-width="1"/>
<text x="209.5" y="14" fill="#111" font-size="12" letter-spacing="0.17">EXPMA(20,50,200,200,200)</text>
<text x="366.8" y="14" fill="#3C96F0" font-size="12" letter-spacing="0.15">MA1:1.1604</text>
<text x="442.5" y="14" fill="#50C88A" font-size="12" letter-spacing="0.25">MA2:1.1581</text>
<text x="517.2" y="14" fill="#4AB0EA" font-size="12" letter-spacing="0.4">MA3:1.1611</text>
<text x="594.5" y="14" fill="#FF8A3D" font-size="12" letter-spacing="0.35">MA4:1.1611</text>
<text x="671" y="14" fill="#E07BE8" font-size="12">M</text>
<rect x="760.75" y="1.75" width="12.5" height="12.5" fill="#fff" stroke="#1F78D1" stroke-width="1.5"/>
<rect x="776.75" y="1.75" width="12.5" height="12.5" fill="#fff" stroke="#1F78D1" stroke-width="1.5"/>
<rect x="792.75" y="1.75" width="12.5" height="12.5" fill="#1F78D1" stroke="#1F78D1" stroke-width="1.5"/>
<rect x="808.75" y="1.75" width="12.5" height="12.5" fill="#fff" stroke="#1F78D1" stroke-width="1.5"/>
<rect x="766" y="3" width="2" height="3" fill="#1F78D1"/>
<rect x="766" y="10" width="2" height="3" fill="#1F78D1"/>
<rect x="762" y="7" width="3" height="2" fill="#1F78D1"/>
<rect x="769" y="7" width="3" height="2" fill="#1F78D1"/>
<rect x="766" y="7" width="2" height="2" fill="#1F78D1"/>
<path d="M779.5 4 V12.5 H788 M777.5 5.5 L779.5 3.2 L781.5 5.5 M786.5 10.5 L788.8 12.5 L786.5 14.5" fill="none" stroke="#1F78D1" stroke-width="1.1"/>
<path d="M782.5 5 V10" fill="none" stroke="#1F78D1" stroke-width="1.2"/>
<path d="M787 4.8 L783.5 7.5 L787 10.2 Z" fill="#1F78D1"/>
<path d="M795.5 4 V12.5 H804 M793.5 5.5 L795.5 3.2 L797.5 5.5 M802.5 10.5 L804.8 12.5 L802.5 14.5" fill="none" stroke="#fff" stroke-width="1.1"/>
<path d="M797.5 4 L803.5 7.5 L797.5 11 Z" fill="#fff" fill-opacity="0.92"/>
<rect x="810.5" y="3.5" width="3" height="9" fill="none" stroke="#1F78D1" stroke-width="1.1"/>
<rect x="814" y="7" width="3.5" height="2" fill="#1F78D1"/>
<path d="M816.5 4.8 L820.3 8 L816.5 11.2 Z" fill="#1F78D1"/>
<text x="72" y="354" fill="#111" font-size="12" letter-spacing="0.22">MACD(26,12,9)</text>
<text x="162.5" y="354" fill="#3C8EF0" font-size="12">DIFF:0.0020</text>
<text x="236.5" y="354" fill="#50C88A" font-size="12">DEA:0.0018</text>
<text x="308.3" y="354" fill="#55B5E6" font-size="12" letter-spacing="0.3">MACD:0.0003</text>
<text x="72.5" y="467" fill="#111" font-size="12">RSI(14,14,14)</text>
<text x="152.3" y="467" fill="#3C8EF0" font-size="12">RSI1:58.0034</text>
<text x="233.6" y="467" fill="#50C88A" font-size="12">RSI2:58.0034</text>
<text x="314.9" y="467" fill="#55B5E6" font-size="12">RSI3:58.0034</text>
<g>
<circle cx="9" cy="459.8" r="3.3" fill="none" stroke="#000" stroke-width="1.2"/>
<circle cx="9" cy="459.8" r="1.7" fill="#F00"/>
<path d="M9 453 V455 M9 465 V467 M2 459.8 H4 M14 459.8 H16 M3.5 454.3 L5 455.8 M14.5 454.3 L13 455.8 M3.5 465.3 L5 463.8 M14.5 465.3 L13 463.8" stroke="#F00" stroke-width="1.2"/>
</g>
<rect x="0.5" y="549.5" width="69" height="19" fill="#fff" stroke="#C8CED6" stroke-width="1"/>
<text x="10" y="564" fill="#FF7A0A" font-size="12" font-weight="bold">240分</text>
<text x="46" y="564" fill="#FF7A0A" font-size="14">▲</text>
<rect x="77" y="550" width="1" height="5" fill="#C8CED6"/>
<text x="79.5" y="562" fill="#222" font-size="12" font-weight="bold">10/08</text>
<rect x="245" y="550" width="1" height="5" fill="#C8CED6"/>
<text x="247.5" y="562" fill="#222" font-size="12" font-weight="bold">10/17</text>
<rect x="397" y="550" width="1" height="5" fill="#C8CED6"/>
<text x="399.5" y="562" fill="#222" font-size="12" font-weight="bold">10/27</text>
<rect x="557" y="550" width="1" height="5" fill="#C8CED6"/>
<text x="559.5" y="562" fill="#222" font-size="12" font-weight="bold">11/05</text>
<rect x="725" y="550" width="1" height="5" fill="#C8CED6"/>
<text x="727.5" y="562" fill="#222" font-size="12" font-weight="bold">11/14</text>
<text x="765.5" y="545" font-size="31" fill="#A08C78" fill-opacity="0.55" letter-spacing="1.5">FX678</text>
<text x="764.3" y="543.8" font-size="31" fill="#DCE6F3" fill-opacity="0.95" letter-spacing="1.5">FX678</text>
</svg>
</body></html>
